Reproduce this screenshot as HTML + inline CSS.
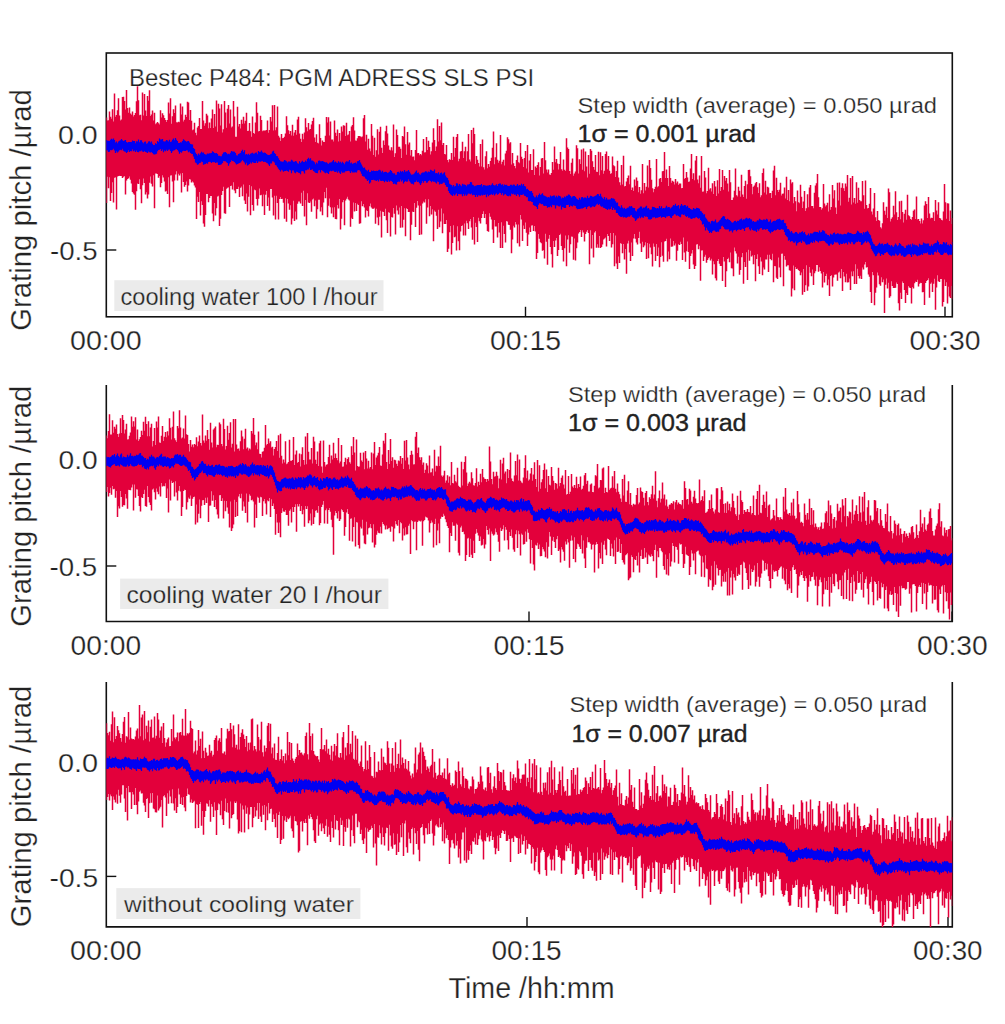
<!DOCTYPE html><html><head><meta charset="utf-8"><style>html,body{margin:0;padding:0;background:#fff;}svg{display:block}text{font-family:"Liberation Sans",sans-serif}</style></head><body>
<svg width="1005" height="1024" viewBox="0 0 1005 1024">
<rect width="1005" height="1024" fill="#fff"/>
<clipPath id="c0"><rect x="106.3" y="53" width="846.0" height="263.8"/></clipPath>
<rect x="106.3" y="53" width="846.0" height="263.8" fill="none" stroke="#111" stroke-width="1.6"/>
<path d="M106.3 134.5h10" stroke="#111" stroke-width="1.4"/>
<path d="M106.3 250h10" stroke="#111" stroke-width="1.4"/>
<path d="M525.5 316.8v-10" stroke="#111" stroke-width="1.4"/>
<path d="M945 316.8v-10" stroke="#111" stroke-width="1.4"/>
<rect x="114.3" y="280.2" width="269.2" height="30.80000000000001" fill="#ebebeb"/>
<g clip-path="url(#c0)"><path d="M106.5 117.5V202.9M107.5 120.6V176.8M108.5 120.3V188.3M109.5 111.5V177.3M110.5 116.7V201.0M111.5 118.7V193.1M112.5 109.3V182.2M113.5 121.6V202.4M114.5 93.5V177.7M115.5 116.8V177.2M116.5 115.0V209.4M117.5 110.2V176.6M118.5 98.2V176.0M119.5 115.5V175.7M120.5 120.4V176.1M121.5 119.5V175.9M122.5 97.1V178.1M123.5 96.7V176.8M124.5 100.9V176.1M125.5 109.6V194.4M126.5 90.0V180.6M127.5 108.0V179.1M128.5 112.8V178.3M129.5 107.4V176.6M130.5 113.4V179.7M131.5 114.8V183.4M132.5 111.5V192.0M133.5 116.4V193.5M134.5 115.1V194.8M135.5 112.9V209.8M136.5 101.2V191.2M137.5 84.8V183.6M138.5 100.2V184.1M139.5 115.2V179.2M140.5 114.8V189.2M141.5 120.3V203.2M142.5 92.6V185.3M143.5 115.4V178.6M144.5 94.0V183.0M145.5 110.6V194.4M146.5 116.0V192.3M147.5 96.1V198.4M148.5 100.7V194.5M149.5 90.2V182.7M150.5 116.0V176.5M151.5 114.5V183.7M152.5 110.6V186.6M153.5 120.6V175.2M154.5 112.7V208.2M155.5 124.2V173.4M156.5 123.3V173.4M157.5 122.1V173.9M158.5 123.2V177.7M159.5 124.6V176.1M160.5 110.3V187.2M161.5 117.6V183.1M162.5 113.2V175.3M163.5 115.2V177.5M164.5 117.9V181.4M165.5 120.0V191.6M166.5 121.9V190.7M167.5 120.0V194.1M168.5 102.4V177.2M169.5 113.6V207.2M170.5 98.2V175.6M171.5 123.7V175.3M172.5 116.2V181.6M173.5 109.3V202.3M174.5 113.0V180.4M175.5 105.4V174.5M176.5 122.3V171.3M177.5 122.5V180.4M178.5 121.8V173.8M179.5 122.3V175.5M180.5 103.5V173.6M181.5 114.4V192.6M182.5 106.6V172.9M183.5 121.5V182.0M184.5 119.8V186.7M185.5 114.8V184.9M186.5 116.9V181.5M187.5 101.8V191.5M188.5 102.5V185.6M189.5 120.0V179.1M190.5 109.9V179.5M191.5 120.8V182.5M192.5 130.2V181.3M193.5 129.5V182.5M194.5 122.8V185.6M195.5 132.7V187.6M196.5 135.2V219.0M197.5 127.6V196.8M198.5 126.1V202.1M199.5 117.9V192.1M200.5 129.0V215.5M201.5 129.0V201.3M202.5 100.9V205.0M203.5 120.4V223.6M204.5 125.8V226.8M205.5 123.2V214.9M206.5 113.7V194.0M207.5 115.6V194.0M208.5 128.2V202.3M209.5 122.5V198.0M210.5 128.0V196.1M211.5 118.5V195.9M212.5 109.4V213.4M213.5 128.0V221.2M214.5 114.1V203.1M215.5 126.5V215.6M216.5 100.5V208.3M217.5 131.7V196.5M218.5 103.7V195.8M219.5 108.4V226.0M220.5 125.4V218.8M221.5 104.2V195.1M222.5 132.5V191.0M223.5 129.3V186.8M224.5 101.1V213.2M225.5 112.6V213.8M226.5 127.8V188.8M227.5 108.8V187.8M228.5 105.1V187.3M229.5 123.4V206.9M230.5 109.5V186.0M231.5 127.6V185.6M232.5 126.6V189.5M233.5 100.9V182.2M234.5 116.6V190.4M235.5 136.8V193.2M236.5 136.7V189.1M237.5 106.8V189.0M238.5 126.5V186.8M239.5 124.1V197.1M240.5 128.4V187.7M241.5 119.8V186.4M242.5 123.7V196.2M243.5 116.7V184.4M244.5 123.6V200.6M245.5 120.8V204.1M246.5 112.8V193.6M247.5 131.0V211.6M248.5 130.8V196.7M249.5 123.1V184.9M250.5 131.2V215.2M251.5 136.8V186.3M252.5 116.5V205.0M253.5 133.1V210.7M254.5 133.9V189.5M255.5 122.6V190.3M256.5 102.2V199.0M257.5 112.8V205.5M258.5 131.6V198.7M259.5 131.1V188.5M260.5 115.8V195.3M261.5 120.0V194.7M262.5 131.2V206.2M263.5 130.5V194.4M264.5 130.5V214.9M265.5 130.5V194.8M266.5 130.1V191.0M267.5 120.4V206.0M268.5 132.8V197.5M269.5 130.0V210.7M270.5 117.1V188.9M271.5 121.4V188.9M272.5 105.2V197.4M273.5 130.4V215.4M274.5 105.1V195.8M275.5 130.2V219.4M276.5 127.3V195.8M277.5 106.6V203.1M278.5 135.7V219.5M279.5 137.5V198.9M280.5 140.9V197.1M281.5 134.1V198.9M282.5 138.2V198.8M283.5 138.1V202.8M284.5 136.8V218.7M285.5 133.4V198.3M286.5 116.2V221.8M287.5 125.2V199.1M288.5 130.3V203.6M289.5 133.9V209.7M290.5 131.0V205.2M291.5 135.5V224.4M292.5 124.8V218.4M293.5 135.7V200.7M294.5 132.6V221.0M295.5 129.9V211.4M296.5 134.8V219.4M297.5 119.5V203.7M298.5 116.7V201.5M299.5 133.5V201.6M300.5 138.8V203.4M301.5 141.9V192.8M302.5 133.8V205.9M303.5 139.2V190.7M304.5 132.5V216.5M305.5 118.3V199.9M306.5 127.3V225.3M307.5 131.3V193.3M308.5 122.9V202.4M309.5 129.7V202.9M310.5 128.9V201.6M311.5 124.5V211.7M312.5 121.1V199.4M313.5 117.7V198.6M314.5 137.4V206.3M315.5 142.1V200.4M316.5 134.2V218.8M317.5 142.8V209.3M318.5 143.4V199.7M319.5 124.2V199.8M320.5 138.1V211.6M321.5 145.6V207.2M322.5 140.6V215.3M323.5 142.1V202.6M324.5 142.0V192.0M325.5 135.8V198.3M326.5 117.1V187.7M327.5 122.6V217.3M328.5 117.3V205.7M329.5 135.5V198.5M330.5 121.4V207.2M331.5 139.6V213.6M332.5 139.5V207.6M333.5 141.4V217.3M334.5 120.5V207.3M335.5 132.7V219.1M336.5 136.0V219.2M337.5 129.6V205.1M338.5 141.6V208.5M339.5 133.1V199.1M340.5 140.8V229.6M341.5 126.5V218.7M342.5 131.5V202.2M343.5 125.2V199.9M344.5 125.8V225.3M345.5 136.0V200.4M346.5 122.7V198.8M347.5 135.3V196.8M348.5 134.5V199.4M349.5 130.9V200.6M350.5 141.6V226.8M351.5 126.6V217.8M352.5 125.1V218.9M353.5 117.2V202.6M354.5 130.6V211.6M355.5 140.6V202.9M356.5 140.8V211.0M357.5 138.2V203.7M358.5 136.1V204.9M359.5 136.0V223.7M360.5 136.6V223.2M361.5 137.3V201.2M362.5 136.4V206.2M363.5 118.3V203.9M364.5 115.1V207.6M365.5 141.4V217.5M366.5 134.8V210.3M367.5 149.7V210.9M368.5 138.8V216.5M369.5 148.5V206.3M370.5 151.2V203.6M371.5 124.0V207.4M372.5 135.7V208.7M373.5 155.0V208.7M374.5 137.7V207.7M375.5 156.8V223.8M376.5 150.2V208.8M377.5 129.3V217.6M378.5 154.4V225.2M379.5 131.8V216.8M380.5 126.8V210.8M381.5 147.7V237.5M382.5 153.0V211.5M383.5 140.6V211.9M384.5 145.1V215.9M385.5 131.2V208.8M386.5 125.8V220.2M387.5 133.5V232.9M388.5 145.6V211.9M389.5 149.8V212.8M390.5 150.5V236.4M391.5 147.2V217.1M392.5 150.4V217.4M393.5 124.5V208.0M394.5 157.0V213.7M395.5 153.2V234.4M396.5 129.5V205.5M397.5 135.1V210.4M398.5 146.8V214.4M399.5 146.7V207.4M400.5 148.7V227.7M401.5 157.9V206.0M402.5 135.9V227.6M403.5 136.7V219.7M404.5 126.6V208.2M405.5 144.3V236.3M406.5 154.7V208.1M407.5 132.1V209.0M408.5 144.6V211.9M409.5 142.6V211.9M410.5 155.6V240.2M411.5 150.1V224.7M412.5 156.8V211.4M413.5 156.6V212.1M414.5 160.3V203.1M415.5 149.9V226.9M416.5 129.9V207.7M417.5 153.2V201.1M418.5 153.0V205.4M419.5 155.3V235.1M420.5 154.0V205.8M421.5 155.2V234.5M422.5 150.7V203.5M423.5 138.9V201.6M424.5 152.5V202.6M425.5 152.3V199.3M426.5 137.0V223.7M427.5 150.1V207.5M428.5 140.8V199.2M429.5 147.1V216.3M430.5 154.4V206.0M431.5 151.3V214.4M432.5 142.5V209.2M433.5 128.3V241.2M434.5 139.9V210.5M435.5 150.9V211.8M436.5 146.5V215.8M437.5 119.3V229.1M438.5 141.4V209.8M439.5 126.1V227.3M440.5 140.2V221.6M441.5 122.6V208.5M442.5 145.0V233.2M443.5 143.0V213.4M444.5 154.1V223.9M445.5 154.5V224.1M446.5 144.9V219.9M447.5 160.1V252.0M448.5 162.2V248.8M449.5 159.2V232.3M450.5 160.1V226.0M451.5 153.0V254.5M452.5 160.1V243.1M453.5 136.8V225.2M454.5 156.7V237.3M455.5 147.9V236.4M456.5 137.0V250.5M457.5 133.9V226.3M458.5 161.2V241.3M459.5 158.7V250.3M460.5 151.4V231.6M461.5 151.1V226.0M462.5 141.8V225.3M463.5 157.9V235.4M464.5 151.3V223.5M465.5 146.8V235.5M466.5 161.2V220.7M467.5 151.3V223.3M468.5 134.0V229.0M469.5 159.6V221.2M470.5 161.5V219.1M471.5 130.1V227.5M472.5 143.3V239.7M473.5 127.8V217.0M474.5 134.0V244.5M475.5 163.9V222.7M476.5 156.1V226.9M477.5 159.8V242.0M478.5 162.9V217.7M479.5 166.6V221.3M480.5 144.0V223.6M481.5 166.5V218.1M482.5 139.4V213.9M483.5 167.2V211.3M484.5 169.4V217.9M485.5 156.3V213.9M486.5 151.2V224.2M487.5 168.3V230.9M488.5 164.0V231.8M489.5 166.7V213.2M490.5 161.0V216.7M491.5 157.8V219.5M492.5 147.7V229.6M493.5 131.4V243.1M494.5 164.3V220.0M495.5 157.2V226.4M496.5 143.2V226.5M497.5 159.7V237.6M498.5 162.8V222.9M499.5 160.8V232.5M500.5 135.0V248.1M501.5 164.2V222.3M502.5 161.7V248.1M503.5 159.8V225.8M504.5 165.6V234.0M505.5 153.5V242.5M506.5 150.8V221.1M507.5 137.2V221.4M508.5 139.2V224.8M509.5 143.6V225.0M510.5 142.3V229.7M511.5 164.5V253.3M512.5 152.9V239.4M513.5 163.2V225.8M514.5 166.0V227.5M515.5 168.2V221.9M516.5 159.9V224.4M517.5 155.5V243.3M518.5 162.2V224.5M519.5 163.2V246.4M520.5 143.0V214.9M521.5 156.7V219.5M522.5 159.0V241.1M523.5 166.9V225.5M524.5 158.0V228.9M525.5 150.9V222.4M526.5 168.5V232.7M527.5 145.1V246.1M528.5 172.5V234.4M529.5 160.5V227.5M530.5 154.1V231.9M531.5 170.1V225.5M532.5 170.0V225.2M533.5 149.3V231.0M534.5 175.1V226.1M535.5 166.5V231.4M536.5 168.1V259.1M537.5 165.0V253.1M538.5 162.2V233.9M539.5 175.4V238.7M540.5 166.9V242.2M541.5 158.6V243.3M542.5 158.0V250.8M543.5 173.4V250.0M544.5 142.1V258.6M545.5 160.2V233.7M546.5 169.4V241.8M547.5 172.4V264.7M548.5 169.6V238.7M549.5 174.5V235.0M550.5 174.9V246.9M551.5 173.0V254.2M552.5 162.0V267.6M553.5 169.7V240.9M554.5 146.6V247.1M555.5 162.3V240.4M556.5 158.9V238.0M557.5 163.5V256.1M558.5 169.4V250.0M559.5 164.1V235.1M560.5 151.9V233.8M561.5 169.2V246.0M562.5 170.7V249.9M563.5 159.6V261.6M564.5 169.8V248.3M565.5 171.1V235.6M566.5 138.2V266.3M567.5 147.4V239.4M568.5 149.1V235.2M569.5 171.0V252.7M570.5 174.1V244.3M571.5 162.8V236.4M572.5 158.4V236.7M573.5 175.8V259.7M574.5 173.6V238.6M575.5 171.6V260.6M576.5 145.2V248.2M577.5 148.2V242.5M578.5 173.4V233.4M579.5 159.2V231.9M580.5 163.9V229.9M581.5 149.4V236.9M582.5 169.7V230.2M583.5 148.4V232.6M584.5 171.3V241.5M585.5 151.6V233.9M586.5 166.6V231.8M587.5 177.5V229.9M588.5 155.0V233.1M589.5 173.7V264.3M590.5 149.1V230.2M591.5 150.8V248.6M592.5 161.2V235.0M593.5 167.0V257.5M594.5 169.8V232.6M595.5 154.9V230.9M596.5 171.7V247.8M597.5 172.0V244.3M598.5 151.8V247.8M599.5 175.3V236.0M600.5 152.2V248.0M601.5 170.2V247.0M602.5 156.0V244.4M603.5 173.7V239.5M604.5 170.8V238.4M605.5 154.1V237.6M606.5 151.6V246.4M607.5 169.2V234.0M608.5 156.1V236.1M609.5 170.8V240.9M610.5 173.9V233.1M611.5 173.3V247.5M612.5 156.4V244.3M613.5 165.2V232.9M614.5 166.2V266.3M615.5 177.0V235.4M616.5 170.9V263.6M617.5 160.8V268.9M618.5 177.4V256.4M619.5 182.2V263.1M620.5 185.3V243.0M621.5 165.1V243.7M622.5 184.5V253.3M623.5 155.8V244.0M624.5 186.6V259.4M625.5 186.0V249.0M626.5 181.5V273.7M627.5 177.9V243.5M628.5 175.5V240.8M629.5 184.2V252.4M630.5 165.7V261.0M631.5 190.0V242.4M632.5 187.4V256.1M633.5 191.1V238.4M634.5 179.6V234.1M635.5 185.8V238.8M636.5 177.6V242.6M637.5 180.7V244.6M638.5 192.3V237.9M639.5 187.0V231.7M640.5 193.8V243.5M641.5 190.2V252.0M642.5 164.0V241.8M643.5 193.2V247.3M644.5 183.1V245.4M645.5 190.6V242.2M646.5 186.7V259.1M647.5 165.4V243.0M648.5 187.5V258.2M649.5 160.1V243.8M650.5 167.9V247.4M651.5 179.8V254.2M652.5 188.3V266.5M653.5 192.3V243.4M654.5 189.1V246.8M655.5 186.7V261.0M656.5 159.1V244.1M657.5 187.2V256.0M658.5 186.2V247.4M659.5 178.8V267.3M660.5 178.0V257.0M661.5 181.9V242.2M662.5 171.3V255.7M663.5 171.0V261.7M664.5 152.1V241.6M665.5 177.9V241.0M666.5 169.4V238.8M667.5 177.9V261.5M668.5 186.1V251.4M669.5 166.1V259.2M670.5 178.0V238.5M671.5 182.8V246.7M672.5 180.8V246.6M673.5 181.8V240.9M674.5 184.5V245.5M675.5 179.1V243.5M676.5 183.3V260.7M677.5 181.6V250.8M678.5 185.1V244.0M679.5 183.5V245.0M680.5 183.4V241.7M681.5 188.3V243.9M682.5 188.0V259.9M683.5 164.0V237.6M684.5 179.0V252.6M685.5 178.1V261.8M686.5 171.9V251.3M687.5 177.5V241.5M688.5 182.1V252.0M689.5 181.6V269.0M690.5 168.4V256.1M691.5 154.1V253.4M692.5 178.9V249.9M693.5 173.3V264.5M694.5 180.2V269.0M695.5 160.5V266.1M696.5 156.1V244.6M697.5 179.5V244.1M698.5 183.2V249.3M699.5 175.4V245.8M700.5 187.8V280.8M701.5 156.0V250.5M702.5 191.7V250.3M703.5 191.6V260.9M704.5 171.0V256.7M705.5 177.6V254.8M706.5 193.3V262.7M707.5 190.9V260.1M708.5 167.8V258.2M709.5 189.6V257.1M710.5 188.2V260.5M711.5 191.5V258.7M712.5 183.3V274.4M713.5 194.1V261.3M714.5 180.9V264.2M715.5 186.4V278.3M716.5 195.9V280.4M717.5 180.2V261.1M718.5 193.5V259.1M719.5 169.0V263.7M720.5 191.0V266.0M721.5 187.1V266.1M722.5 169.9V280.9M723.5 189.7V257.1M724.5 176.0V261.5M725.5 180.7V287.0M726.5 178.1V271.3M727.5 183.5V259.0M728.5 191.6V257.7M729.5 169.9V262.2M730.5 182.2V252.5M731.5 200.1V268.3M732.5 199.9V268.5M733.5 197.5V276.3M734.5 190.8V247.4M735.5 168.4V251.3M736.5 195.2V253.5M737.5 196.6V263.6M738.5 186.8V256.8M739.5 190.7V274.7M740.5 196.7V270.1M741.5 174.7V257.2M742.5 194.6V252.9M743.5 196.9V283.8M744.5 186.0V262.0M745.5 180.7V267.0M746.5 198.8V252.2M747.5 184.2V279.9M748.5 170.1V249.7M749.5 169.7V260.7M750.5 176.3V250.8M751.5 184.1V256.5M752.5 194.3V255.3M753.5 186.8V264.3M754.5 185.5V255.1M755.5 183.2V281.2M756.5 182.0V259.0M757.5 187.3V254.3M758.5 193.0V266.2M759.5 183.2V274.1M760.5 197.3V257.3M761.5 195.3V261.5M762.5 173.0V275.2M763.5 168.5V267.6M764.5 192.5V269.5M765.5 180.7V259.5M766.5 194.4V259.6M767.5 186.7V254.7M768.5 187.4V272.0M769.5 193.3V254.8M770.5 193.1V259.1M771.5 198.1V260.2M772.5 190.7V253.8M773.5 170.4V282.2M774.5 165.8V266.0M775.5 195.2V266.3M776.5 177.7V277.8M777.5 189.9V278.9M778.5 191.9V257.5M779.5 189.8V267.4M780.5 182.7V277.2M781.5 195.6V253.8M782.5 193.7V253.6M783.5 193.6V286.2M784.5 187.5V255.9M785.5 198.4V259.8M786.5 176.7V266.5M787.5 200.1V265.2M788.5 189.9V265.3M789.5 201.2V270.2M790.5 179.4V270.8M791.5 183.5V296.5M792.5 182.3V288.6M793.5 203.2V265.5M794.5 196.9V290.3M795.5 201.2V267.1M796.5 211.2V268.9M797.5 190.5V268.5M798.5 202.2V270.1M799.5 203.3V270.9M800.5 184.7V275.3M801.5 196.7V272.4M802.5 208.0V294.8M803.5 201.5V269.0M804.5 191.0V291.9M805.5 210.9V285.2M806.5 208.2V265.2M807.5 194.3V290.7M808.5 207.3V286.4M809.5 187.5V267.1M810.5 185.1V272.8M811.5 205.9V276.3M812.5 206.0V269.4M813.5 208.2V285.1M814.5 192.8V273.3M815.5 185.4V271.3M816.5 183.2V265.0M817.5 174.0V265.1M818.5 197.3V271.7M819.5 207.1V267.2M820.5 206.9V271.0M821.5 209.7V273.5M822.5 208.2V287.6M823.5 183.9V272.0M824.5 203.6V282.5M825.5 206.4V276.0M826.5 205.2V273.7M827.5 202.8V285.3M828.5 211.5V279.5M829.5 194.3V296.1M830.5 209.8V275.9M831.5 206.9V274.9M832.5 185.1V286.5M833.5 198.5V277.5M834.5 190.2V274.8M835.5 207.5V274.5M836.5 213.9V274.4M837.5 182.8V280.8M838.5 200.5V272.4M839.5 182.4V271.4M840.5 205.5V278.3M841.5 187.8V269.0M842.5 183.3V291.1M843.5 188.3V272.0M844.5 191.1V276.5M845.5 183.5V282.3M846.5 186.5V273.7M847.5 175.0V282.5M848.5 201.7V282.3M849.5 197.8V278.5M850.5 178.0V290.1M851.5 204.6V271.4M852.5 176.1V276.2M853.5 202.5V271.2M854.5 198.0V284.1M855.5 203.7V264.3M856.5 182.3V283.9M857.5 202.7V268.8M858.5 187.8V275.9M859.5 199.9V278.4M860.5 201.2V275.8M861.5 201.2V279.1M862.5 180.9V267.6M863.5 195.3V269.6M864.5 208.7V264.6M865.5 180.5V262.1M866.5 205.0V267.6M867.5 208.4V266.9M868.5 208.0V274.6M869.5 203.8V276.8M870.5 188.0V291.9M871.5 211.4V302.9M872.5 214.6V272.0M873.5 208.5V275.2M874.5 193.1V305.3M875.5 217.3V292.7M876.5 221.1V287.6M877.5 211.0V272.6M878.5 220.0V275.5M879.5 220.7V284.2M880.5 227.2V285.8M881.5 228.4V277.2M882.5 223.2V282.3M883.5 202.2V279.5M884.5 210.8V313.1M885.5 214.8V284.8M886.5 206.7V278.5M887.5 218.1V288.5M888.5 188.5V282.7M889.5 192.2V297.7M890.5 221.6V296.3M891.5 218.8V281.3M892.5 217.2V285.9M893.5 205.7V288.1M894.5 214.6V287.9M895.5 191.3V287.8M896.5 212.3V282.4M897.5 220.0V284.0M898.5 216.9V303.2M899.5 201.2V310.6M900.5 219.3V292.7M901.5 200.7V298.9M902.5 212.0V281.6M903.5 222.6V283.1M904.5 213.7V289.9M905.5 209.7V303.1M906.5 219.7V292.9M907.5 194.7V295.1M908.5 215.3V286.1M909.5 216.3V287.4M910.5 219.0V288.1M911.5 219.9V303.5M912.5 216.9V286.9M913.5 210.7V288.4M914.5 209.6V283.3M915.5 219.0V281.6M916.5 196.6V282.1M917.5 219.5V279.8M918.5 218.9V286.4M919.5 221.0V283.8M920.5 223.6V282.8M921.5 218.6V282.9M922.5 223.4V292.2M923.5 220.3V291.9M924.5 205.5V305.0M925.5 201.2V283.0M926.5 204.1V281.0M927.5 218.1V280.0M928.5 197.0V278.2M929.5 213.5V297.8M930.5 218.6V283.7M931.5 217.8V282.6M932.5 217.9V292.0M933.5 212.2V283.7M934.5 220.9V278.8M935.5 200.1V309.8M936.5 210.5V287.5M937.5 214.4V275.3M938.5 202.2V281.2M939.5 218.0V282.0M940.5 218.4V278.9M941.5 219.9V279.0M942.5 220.4V306.4M943.5 211.4V301.9M944.5 184.0V279.4M945.5 202.2V286.0M946.5 218.7V282.2M947.5 203.2V303.4M948.5 203.6V286.7M949.5 221.1V296.5M950.5 210.4V298.1M951.5 224.0V286.1M952.5 217.9V299.3" fill="none" stroke="#e3003b" stroke-width="1.5"/></g>
<g clip-path="url(#c0)"><path d="M106.5 139.9V150.3M107.5 140.8V150.6M108.5 140.7V151.9M109.5 141.0V151.7M110.5 139.7V149.9M111.5 138.8V150.2M112.5 139.4V149.8M113.5 138.4V148.7M114.5 139.9V150.5M115.5 142.4V153.0M116.5 141.5V151.2M117.5 143.2V152.4M118.5 141.5V151.4M119.5 140.7V150.2M120.5 140.3V149.7M121.5 139.0V150.2M122.5 140.3V148.8M123.5 141.0V150.7M124.5 140.6V151.5M125.5 140.1V151.7M126.5 142.0V153.0M127.5 142.7V152.1M128.5 142.1V150.3M129.5 142.0V152.1M130.5 141.9V151.1M131.5 141.9V151.3M132.5 140.5V149.2M133.5 140.9V151.2M134.5 141.0V150.4M135.5 143.2V152.0M136.5 141.2V150.4M137.5 141.5V151.9M138.5 139.5V152.2M139.5 142.3V151.2M140.5 140.2V151.3M141.5 140.3V150.5M142.5 142.2V151.6M143.5 143.3V152.1M144.5 141.8V151.0M145.5 141.4V152.1M146.5 143.7V152.2M147.5 143.3V152.9M148.5 141.5V151.5M149.5 141.3V152.2M150.5 142.5V152.4M151.5 141.6V151.9M152.5 143.8V152.9M153.5 145.1V154.3M154.5 144.9V154.5M155.5 143.3V154.2M156.5 144.1V153.7M157.5 140.9V151.2M158.5 141.9V150.1M159.5 138.6V149.8M160.5 139.5V149.0M161.5 139.4V151.0M162.5 139.1V149.5M163.5 141.2V152.2M164.5 141.6V150.4M165.5 141.3V151.2M166.5 139.9V149.7M167.5 140.4V151.0M168.5 141.4V149.8M169.5 139.7V149.6M170.5 141.9V150.9M171.5 141.5V153.1M172.5 139.7V151.2M173.5 138.6V150.5M174.5 140.2V150.2M175.5 138.1V149.6M176.5 139.8V149.1M177.5 141.0V150.0M178.5 142.9V151.5M179.5 142.9V153.7M180.5 142.2V152.1M181.5 142.4V152.8M182.5 141.0V151.2M183.5 139.2V150.8M184.5 140.3V151.1M185.5 140.9V151.1M186.5 141.7V150.3M187.5 141.2V150.6M188.5 140.9V152.2M189.5 142.5V151.6M190.5 143.9V152.9M191.5 144.3V153.8M192.5 144.5V154.1M193.5 147.9V156.5M194.5 149.0V159.0M195.5 152.4V162.5M196.5 154.1V163.2M197.5 155.6V164.7M198.5 153.5V164.2M199.5 154.7V163.1M200.5 153.2V162.7M201.5 151.8V161.6M202.5 152.7V162.0M203.5 152.4V164.7M204.5 153.9V164.3M205.5 154.6V163.9M206.5 154.5V163.0M207.5 153.5V163.8M208.5 153.8V162.1M209.5 153.2V161.8M210.5 153.3V161.9M211.5 153.1V163.1M212.5 151.3V161.9M213.5 152.1V162.3M214.5 153.1V162.1M215.5 153.2V163.1M216.5 152.9V162.4M217.5 154.0V162.5M218.5 155.7V165.0M219.5 155.8V165.1M220.5 156.2V164.7M221.5 156.2V164.3M222.5 154.3V162.9M223.5 152.6V161.1M224.5 152.2V161.2M225.5 152.1V161.3M226.5 152.9V162.3M227.5 154.3V162.9M228.5 153.7V165.7M229.5 154.2V163.5M230.5 152.8V161.9M231.5 151.1V160.3M232.5 151.6V161.0M233.5 151.6V161.3M234.5 151.7V162.1M235.5 153.0V163.2M236.5 155.3V164.5M237.5 155.5V164.1M238.5 153.9V163.4M239.5 153.4V162.9M240.5 153.0V162.5M241.5 150.9V161.2M242.5 149.7V160.0M243.5 152.0V161.2M244.5 150.2V162.4M245.5 154.5V164.4M246.5 154.0V162.7M247.5 154.7V165.6M248.5 153.7V164.8M249.5 155.0V164.0M250.5 153.7V162.5M251.5 153.2V163.5M252.5 152.7V161.9M253.5 153.8V162.7M254.5 153.5V163.1M255.5 152.7V163.0M256.5 152.6V161.3M257.5 154.3V162.9M258.5 151.0V161.6M259.5 152.0V161.5M260.5 151.7V161.7M261.5 150.6V161.2M262.5 152.3V161.1M263.5 153.1V162.1M264.5 152.6V161.7M265.5 153.0V162.1M266.5 153.9V162.7M267.5 154.7V163.2M268.5 154.9V164.4M269.5 155.1V166.0M270.5 154.3V163.5M271.5 153.7V163.6M272.5 151.6V161.3M273.5 150.7V161.4M274.5 153.1V162.4M275.5 154.1V164.9M276.5 156.1V165.4M277.5 156.2V167.3M278.5 158.2V168.7M279.5 160.0V169.9M280.5 161.3V171.5M281.5 161.4V169.8M282.5 161.8V170.5M283.5 161.5V171.7M284.5 160.0V170.9M285.5 160.5V171.0M286.5 161.3V170.4M287.5 162.6V171.1M288.5 161.6V171.8M289.5 161.5V169.8M290.5 161.4V170.3M291.5 159.8V173.2M292.5 160.6V170.4M293.5 161.7V170.4M294.5 161.7V172.6M295.5 160.9V173.2M296.5 161.4V171.8M297.5 163.3V171.9M298.5 163.7V172.7M299.5 161.3V173.1M300.5 162.9V174.2M301.5 161.8V171.3M302.5 160.8V171.1M303.5 162.0V171.5M304.5 162.0V173.4M305.5 160.6V170.2M306.5 161.6V170.2M307.5 159.0V169.6M308.5 157.8V169.6M309.5 159.3V167.8M310.5 158.3V170.0M311.5 160.5V169.7M312.5 160.6V169.3M313.5 161.2V171.1M314.5 162.3V171.8M315.5 164.2V172.7M316.5 162.5V172.9M317.5 163.4V173.3M318.5 160.7V170.6M319.5 160.6V170.1M320.5 161.2V172.5M321.5 161.3V169.9M322.5 160.9V170.8M323.5 161.5V171.6M324.5 161.9V172.6M325.5 162.4V173.3M326.5 162.2V172.6M327.5 163.3V172.9M328.5 163.9V174.1M329.5 162.7V171.5M330.5 162.6V170.7M331.5 162.3V171.3M332.5 161.2V170.7M333.5 160.0V170.7M334.5 162.2V171.7M335.5 161.6V172.0M336.5 162.6V171.6M337.5 163.0V172.8M338.5 161.3V171.3M339.5 162.4V172.8M340.5 161.7V173.9M341.5 163.3V171.6M342.5 161.8V172.8M343.5 162.9V172.6M344.5 164.2V172.6M345.5 162.2V171.3M346.5 161.3V171.2M347.5 161.6V171.1M348.5 161.4V170.8M349.5 160.0V171.3M350.5 163.2V172.9M351.5 162.6V171.3M352.5 163.9V172.6M353.5 163.3V172.4M354.5 163.0V172.4M355.5 162.4V172.3M356.5 163.5V172.4M357.5 161.3V170.4M358.5 161.1V170.0M359.5 159.9V170.2M360.5 162.6V171.5M361.5 164.6V173.8M362.5 166.6V176.1M363.5 168.0V176.5M364.5 167.5V176.7M365.5 169.5V178.4M366.5 170.3V179.2M367.5 171.2V180.9M368.5 169.8V180.1M369.5 172.1V183.6M370.5 172.0V182.6M371.5 170.5V180.1M372.5 170.9V180.0M373.5 170.4V179.8M374.5 171.0V180.3M375.5 171.1V180.4M376.5 170.7V181.0M377.5 170.9V180.1M378.5 170.3V181.4M379.5 169.7V179.4M380.5 170.4V180.7M381.5 172.3V181.1M382.5 170.7V180.7M383.5 172.5V181.0M384.5 171.9V182.3M385.5 171.7V180.8M386.5 171.9V181.4M387.5 172.9V182.0M388.5 172.4V180.6M389.5 171.7V181.7M390.5 170.0V180.7M391.5 170.9V180.9M392.5 172.8V182.1M393.5 173.4V184.0M394.5 173.3V183.5M395.5 174.7V184.2M396.5 174.7V184.4M397.5 171.9V182.0M398.5 171.8V181.6M399.5 172.7V181.7M400.5 170.8V179.6M401.5 172.1V181.6M402.5 171.0V180.3M403.5 172.2V183.5M404.5 170.0V181.9M405.5 171.8V181.0M406.5 171.3V181.7M407.5 171.3V181.6M408.5 169.9V179.2M409.5 171.7V181.2M410.5 173.6V182.4M411.5 174.8V183.7M412.5 174.5V183.7M413.5 174.2V184.6M414.5 173.3V182.2M415.5 171.8V182.0M416.5 170.4V180.5M417.5 172.9V182.0M418.5 172.4V181.7M419.5 174.2V183.3M420.5 174.7V185.1M421.5 173.2V183.3M422.5 172.6V181.0M423.5 172.5V182.7M424.5 172.2V181.0M425.5 171.2V181.0M426.5 171.5V182.7M427.5 172.5V182.6M428.5 171.4V180.9M429.5 171.9V180.2M430.5 169.7V181.0M431.5 170.2V182.3M432.5 171.0V181.1M433.5 171.3V181.7M434.5 169.6V181.7M435.5 173.2V182.5M436.5 173.0V183.4M437.5 173.4V181.6M438.5 172.3V182.0M439.5 174.6V184.5M440.5 173.1V183.8M441.5 172.5V184.0M442.5 174.2V183.5M443.5 173.3V182.4M444.5 172.3V182.7M445.5 175.4V185.0M446.5 177.3V186.8M447.5 178.1V187.0M448.5 180.3V191.1M449.5 183.7V193.0M450.5 184.6V194.2M451.5 185.1V195.0M452.5 186.4V195.9M453.5 185.1V194.2M454.5 186.5V195.6M455.5 186.1V194.4M456.5 183.3V193.2M457.5 183.4V195.9M458.5 185.7V194.0M459.5 184.0V194.3M460.5 185.2V194.3M461.5 186.2V194.3M462.5 183.8V196.3M463.5 184.5V194.1M464.5 184.5V195.8M465.5 185.0V194.4M466.5 186.3V195.8M467.5 184.6V194.6M468.5 184.4V193.6M469.5 184.1V193.8M470.5 182.1V194.3M471.5 182.3V193.6M472.5 184.7V195.2M473.5 185.3V194.8M474.5 186.2V195.0M475.5 185.8V197.1M476.5 185.4V194.9M477.5 185.1V196.8M478.5 184.9V195.3M479.5 185.0V195.5M480.5 185.1V195.7M481.5 184.1V194.8M482.5 186.5V195.5M483.5 185.1V194.7M484.5 185.2V194.9M485.5 185.6V194.6M486.5 185.8V197.2M487.5 185.6V194.5M488.5 185.6V196.2M489.5 185.1V195.0M490.5 185.5V194.8M491.5 184.8V194.0M492.5 183.2V194.9M493.5 185.0V193.8M494.5 185.4V195.4M495.5 185.3V194.3M496.5 184.3V193.3M497.5 185.9V194.8M498.5 184.0V194.0M499.5 183.6V192.8M500.5 183.6V192.9M501.5 184.9V194.7M502.5 184.2V192.9M503.5 185.8V195.6M504.5 184.5V194.5M505.5 184.9V194.0M506.5 184.8V195.3M507.5 185.8V196.1M508.5 186.0V196.2M509.5 185.9V195.5M510.5 184.8V196.2M511.5 184.7V193.4M512.5 185.5V194.2M513.5 184.6V193.8M514.5 184.8V194.8M515.5 185.9V194.4M516.5 185.5V195.9M517.5 184.0V194.0M518.5 185.7V194.7M519.5 184.9V196.8M520.5 185.6V194.8M521.5 183.7V195.1M522.5 185.4V194.8M523.5 184.1V194.3M524.5 186.1V195.7M525.5 186.6V196.1M526.5 189.2V197.3M527.5 188.8V197.2M528.5 190.0V200.9M529.5 191.1V201.2M530.5 191.3V201.1M531.5 191.1V201.8M532.5 193.1V201.9M533.5 195.7V205.1M534.5 197.2V205.8M535.5 197.3V206.1M536.5 195.4V207.0M537.5 197.2V209.0M538.5 195.1V204.8M539.5 193.4V203.3M540.5 195.0V203.6M541.5 194.2V204.2M542.5 193.2V203.9M543.5 195.3V205.5M544.5 195.8V206.0M545.5 196.3V205.7M546.5 196.8V205.9M547.5 197.6V207.7M548.5 196.9V207.1M549.5 197.6V207.3M550.5 195.6V205.7M551.5 196.6V207.3M552.5 196.1V204.8M553.5 195.6V205.2M554.5 195.4V205.2M555.5 197.3V208.4M556.5 195.7V205.6M557.5 197.2V205.4M558.5 195.6V206.3M559.5 196.1V206.4M560.5 196.5V205.4M561.5 198.5V209.5M562.5 197.6V207.1M563.5 198.0V207.4M564.5 196.5V208.1M565.5 197.3V208.0M566.5 195.7V205.1M567.5 195.8V205.1M568.5 194.4V204.8M569.5 194.8V207.0M570.5 196.1V205.6M571.5 197.5V205.9M572.5 196.6V206.6M573.5 195.9V205.3M574.5 196.0V205.8M575.5 197.0V206.0M576.5 198.5V208.3M577.5 199.3V209.3M578.5 200.0V209.0M579.5 197.7V208.9M580.5 199.4V208.8M581.5 197.3V208.6M582.5 197.0V208.6M583.5 198.2V208.1M584.5 197.6V207.3M585.5 197.5V207.0M586.5 198.2V208.9M587.5 195.7V207.0M588.5 198.0V206.2M589.5 197.5V206.2M590.5 195.7V207.6M591.5 196.0V207.2M592.5 196.7V206.2M593.5 196.8V206.4M594.5 196.2V207.1M595.5 195.7V205.8M596.5 195.2V204.5M597.5 194.1V203.7M598.5 194.2V205.0M599.5 195.9V204.0M600.5 193.8V205.8M601.5 196.6V206.7M602.5 197.8V206.6M603.5 199.0V207.8M604.5 196.9V208.1M605.5 199.6V208.8M606.5 197.7V208.9M607.5 199.4V209.9M608.5 199.4V208.8M609.5 199.4V209.4M610.5 199.2V208.9M611.5 198.1V206.8M612.5 198.6V209.9M613.5 198.5V208.0M614.5 199.2V209.7M615.5 201.2V209.7M616.5 202.7V213.0M617.5 202.6V212.9M618.5 206.1V214.7M619.5 206.4V216.1M620.5 207.7V216.7M621.5 205.2V217.0M622.5 207.4V216.5M623.5 208.4V217.5M624.5 207.8V217.0M625.5 209.1V217.5M626.5 208.6V217.8M627.5 207.7V217.1M628.5 207.4V216.5M629.5 206.3V216.7M630.5 206.6V215.4M631.5 206.1V215.0M632.5 207.4V217.1M633.5 208.1V217.8M634.5 207.9V218.4M635.5 210.8V221.1M636.5 211.5V219.7M637.5 209.3V218.4M638.5 208.5V218.2M639.5 207.7V216.4M640.5 206.4V218.3M641.5 206.5V216.7M642.5 208.6V217.4M643.5 207.5V217.8M644.5 207.7V216.1M645.5 206.7V216.7M646.5 205.8V216.4M647.5 208.4V216.9M648.5 208.1V219.3M649.5 209.5V219.5M650.5 209.7V219.4M651.5 209.5V219.1M652.5 206.7V217.4M653.5 206.9V217.6M654.5 207.3V217.1M655.5 208.0V218.3M656.5 208.6V217.7M657.5 208.1V217.7M658.5 208.5V217.3M659.5 205.9V216.9M660.5 207.9V216.2M661.5 206.3V217.8M662.5 208.4V216.9M663.5 208.0V217.1M664.5 208.3V217.1M665.5 207.6V218.0M666.5 205.8V216.5M667.5 207.5V216.4M668.5 206.9V216.0M669.5 207.2V216.1M670.5 208.4V217.5M671.5 207.4V217.9M672.5 206.6V215.9M673.5 204.9V215.2M674.5 205.5V213.9M675.5 203.8V214.4M676.5 205.9V215.8M677.5 205.8V215.3M678.5 205.0V216.0M679.5 208.5V216.7M680.5 205.8V217.3M681.5 204.0V214.5M682.5 205.5V214.3M683.5 205.8V215.0M684.5 204.9V214.4M685.5 205.2V216.1M686.5 206.7V217.0M687.5 205.7V215.9M688.5 207.8V217.7M689.5 208.1V217.4M690.5 208.9V218.4M691.5 209.5V218.9M692.5 209.8V218.5M693.5 207.9V217.9M694.5 208.8V218.2M695.5 209.0V217.4M696.5 207.8V217.0M697.5 208.1V218.1M698.5 208.2V218.8M699.5 208.7V218.1M700.5 210.9V219.9M701.5 211.6V221.2M702.5 213.1V224.4M703.5 214.4V224.1M704.5 214.2V226.8M705.5 217.5V230.4M706.5 218.7V227.8M707.5 220.6V229.7M708.5 221.7V230.9M709.5 221.8V232.9M710.5 223.6V232.0M711.5 220.9V233.1M712.5 220.7V231.2M713.5 221.6V230.6M714.5 221.2V230.6M715.5 219.6V231.4M716.5 222.5V232.0M717.5 222.4V231.6M718.5 221.8V231.7M719.5 220.4V229.6M720.5 219.4V229.0M721.5 218.1V226.3M722.5 216.7V225.8M723.5 216.1V227.0M724.5 216.4V228.7M725.5 218.9V229.6M726.5 219.7V229.5M727.5 218.8V229.6M728.5 219.5V229.2M729.5 220.0V231.6M730.5 221.0V230.7M731.5 222.2V230.6M732.5 222.8V232.5M733.5 222.3V230.5M734.5 221.1V229.9M735.5 220.8V229.8M736.5 221.9V231.2M737.5 220.8V230.1M738.5 221.1V229.4M739.5 219.8V229.6M740.5 219.2V229.9M741.5 218.5V229.6M742.5 220.3V228.6M743.5 219.2V228.9M744.5 219.4V231.1M745.5 218.5V227.9M746.5 217.8V227.3M747.5 218.5V227.4M748.5 218.8V227.1M749.5 217.9V229.2M750.5 219.2V230.4M751.5 219.5V228.5M752.5 221.6V229.9M753.5 221.0V230.4M754.5 222.1V230.8M755.5 221.7V230.8M756.5 221.6V231.9M757.5 220.3V229.2M758.5 220.4V230.8M759.5 218.7V229.2M760.5 219.5V228.3M761.5 220.0V228.1M762.5 220.2V229.8M763.5 219.6V229.5M764.5 219.6V228.9M765.5 220.0V229.7M766.5 218.7V229.2M767.5 219.4V229.1M768.5 221.7V231.0M769.5 221.6V231.9M770.5 219.4V233.3M771.5 222.8V231.6M772.5 221.7V232.1M773.5 221.1V231.1M774.5 220.8V230.1M775.5 221.1V230.6M776.5 220.0V230.0M777.5 219.3V228.9M778.5 219.2V229.5M779.5 218.7V230.1M780.5 219.8V229.7M781.5 220.5V229.1M782.5 220.0V229.6M783.5 219.8V229.7M784.5 222.9V232.0M785.5 223.2V234.9M786.5 226.0V236.3M787.5 229.0V237.2M788.5 229.0V240.8M789.5 230.4V240.1M790.5 232.3V241.7M791.5 231.1V241.1M792.5 232.8V241.3M793.5 233.4V242.6M794.5 233.3V242.8M795.5 231.9V241.5M796.5 232.0V245.5M797.5 233.3V243.3M798.5 234.0V242.6M799.5 232.5V242.0M800.5 232.8V241.5M801.5 232.1V243.0M802.5 231.2V240.6M803.5 232.9V241.6M804.5 231.9V241.7M805.5 234.2V243.6M806.5 235.6V244.8M807.5 234.9V244.6M808.5 233.4V244.3M809.5 235.4V244.3M810.5 233.2V242.8M811.5 233.4V242.1M812.5 233.5V243.1M813.5 232.5V241.2M814.5 231.7V242.4M815.5 231.7V240.2M816.5 231.9V241.0M817.5 232.0V241.6M818.5 232.7V242.4M819.5 230.6V240.7M820.5 232.5V241.2M821.5 232.0V240.9M822.5 230.3V240.8M823.5 230.5V240.7M824.5 231.2V241.0M825.5 233.4V242.3M826.5 233.7V243.2M827.5 235.1V243.8M828.5 235.1V245.6M829.5 236.2V245.8M830.5 233.7V243.7M831.5 234.4V243.8M832.5 234.5V245.0M833.5 232.9V243.9M834.5 232.5V241.8M835.5 234.3V242.6M836.5 234.1V242.5M837.5 233.3V242.3M838.5 233.6V243.4M839.5 234.3V244.9M840.5 233.8V243.5M841.5 234.2V244.1M842.5 234.4V244.1M843.5 234.3V242.7M844.5 233.7V243.8M845.5 233.9V242.9M846.5 234.3V242.8M847.5 232.7V244.6M848.5 232.3V241.7M849.5 233.1V242.5M850.5 233.1V243.7M851.5 233.5V241.8M852.5 233.9V242.2M853.5 234.3V244.2M854.5 233.9V244.2M855.5 234.1V242.7M856.5 232.7V241.7M857.5 230.8V242.1M858.5 231.5V240.7M859.5 232.8V241.9M860.5 233.2V242.1M861.5 233.1V244.9M862.5 234.4V244.6M863.5 232.1V243.2M864.5 233.2V242.3M865.5 232.1V240.9M866.5 231.7V242.7M867.5 230.7V241.4M868.5 232.3V241.8M869.5 233.9V243.2M870.5 235.2V245.2M871.5 238.5V248.9M872.5 241.7V250.7M873.5 243.7V252.6M874.5 244.6V254.3M875.5 246.1V256.2M876.5 246.0V255.8M877.5 245.5V253.7M878.5 244.2V252.6M879.5 242.8V253.2M880.5 244.2V256.0M881.5 243.7V254.0M882.5 243.5V254.6M883.5 245.2V254.9M884.5 244.1V253.3M885.5 243.9V253.0M886.5 243.7V252.1M887.5 242.8V252.3M888.5 244.5V253.7M889.5 245.1V254.9M890.5 246.3V255.5M891.5 245.1V256.3M892.5 246.3V255.2M893.5 246.9V255.5M894.5 245.2V255.8M895.5 243.5V253.6M896.5 244.7V254.5M897.5 246.2V255.7M898.5 245.3V255.0M899.5 243.1V253.5M900.5 244.0V253.4M901.5 245.5V255.8M902.5 246.1V255.2M903.5 246.6V256.4M904.5 247.8V257.1M905.5 247.9V256.5M906.5 245.6V255.5M907.5 245.5V254.5M908.5 244.6V254.2M909.5 245.2V254.1M910.5 244.3V255.1M911.5 246.8V256.9M912.5 243.4V254.1M913.5 244.8V255.2M914.5 244.4V254.1M915.5 245.2V254.4M916.5 245.3V255.4M917.5 245.8V256.2M918.5 247.0V255.4M919.5 243.8V255.5M920.5 244.8V254.9M921.5 244.9V254.1M922.5 244.8V254.9M923.5 242.4V252.9M924.5 243.2V253.5M925.5 243.6V253.1M926.5 243.7V253.3M927.5 243.4V252.3M928.5 243.6V254.6M929.5 246.1V254.7M930.5 246.3V255.0M931.5 244.4V253.5M932.5 246.1V254.8M933.5 244.3V254.7M934.5 243.4V252.0M935.5 243.1V251.5M936.5 242.8V252.4M937.5 240.6V249.7M938.5 242.0V252.0M939.5 244.7V252.9M940.5 244.0V254.4M941.5 244.6V255.0M942.5 244.2V254.9M943.5 242.0V253.8M944.5 242.6V252.5M945.5 243.4V252.9M946.5 242.3V252.4M947.5 245.1V254.3M948.5 244.6V255.3M949.5 245.8V254.5M950.5 244.0V254.7M951.5 244.9V254.7M952.5 241.9V252.8" fill="none" stroke="#0000f2" stroke-width="1.25"/></g>
<clipPath id="c1"><rect x="106.3" y="385" width="846.0" height="236.5"/></clipPath>
<path d="M106.3 385V621.5H952.3V385" fill="none" stroke="#111" stroke-width="1.6"/>
<path d="M106.3 460h10" stroke="#111" stroke-width="1.4"/>
<path d="M106.3 566h10" stroke="#111" stroke-width="1.4"/>
<path d="M529 621.5v-10" stroke="#111" stroke-width="1.4"/>
<path d="M952 621.5v-10" stroke="#111" stroke-width="1.4"/>
<rect x="120.1" y="578.6" width="268.29999999999995" height="30.399999999999977" fill="#ebebeb"/>
<g clip-path="url(#c1)"><path d="M106.5 435.4V492.1M107.5 438.3V487.1M108.5 431.1V496.5M109.5 414.2V492.9M110.5 434.5V487.8M111.5 434.4V494.7M112.5 420.3V486.1M113.5 432.8V489.3M114.5 426.8V488.7M115.5 428.8V497.7M116.5 424.4V491.1M117.5 434.0V517.1M118.5 437.0V506.3M119.5 433.4V508.4M120.5 418.3V491.0M121.5 432.9V496.9M122.5 415.1V506.7M123.5 419.9V504.9M124.5 433.6V505.3M125.5 429.4V494.0M126.5 423.8V498.6M127.5 439.5V508.7M128.5 439.3V489.7M129.5 435.8V489.9M130.5 432.4V490.2M131.5 416.4V487.6M132.5 426.7V484.6M133.5 421.2V510.6M134.5 426.5V484.6M135.5 417.3V497.8M136.5 439.6V489.2M137.5 429.5V489.6M138.5 441.1V496.1M139.5 439.2V506.1M140.5 437.1V511.4M141.5 430.8V496.9M142.5 434.9V498.1M143.5 421.7V494.0M144.5 430.8V489.8M145.5 416.7V506.0M146.5 424.0V506.7M147.5 436.3V485.9M148.5 421.2V496.9M149.5 436.3V502.5M150.5 427.5V505.0M151.5 423.7V510.6M152.5 446.5V489.4M153.5 441.1V488.4M154.5 427.9V492.3M155.5 445.1V499.5M156.5 421.6V488.6M157.5 427.6V491.7M158.5 416.6V494.3M159.5 442.5V486.5M160.5 443.1V496.5M161.5 435.7V483.0M162.5 426.1V486.4M163.5 441.1V485.7M164.5 436.7V486.2M165.5 431.9V483.3M166.5 437.2V497.9M167.5 431.3V488.5M168.5 435.5V512.5M169.5 418.3V479.6M170.5 427.8V500.6M171.5 439.4V480.7M172.5 426.8V482.9M173.5 411.4V481.9M174.5 438.3V496.5M175.5 440.3V481.2M176.5 442.0V492.6M177.5 426.1V500.5M178.5 428.2V490.8M179.5 410.2V486.1M180.5 427.4V491.5M181.5 438.6V516.0M182.5 437.5V506.9M183.5 428.5V490.9M184.5 438.6V489.4M185.5 415.5V490.1M186.5 434.3V509.5M187.5 435.1V502.2M188.5 444.1V497.5M189.5 451.4V498.8M190.5 440.0V495.6M191.5 446.7V506.1M192.5 444.6V498.7M193.5 447.3V497.1M194.5 443.9V496.6M195.5 445.0V524.6M196.5 437.2V504.4M197.5 446.2V522.5M198.5 441.6V513.7M199.5 435.5V499.4M200.5 443.1V518.2M201.5 445.4V505.8M202.5 414.4V500.2M203.5 440.6V499.9M204.5 442.8V504.9M205.5 435.4V497.7M206.5 440.8V502.9M207.5 430.0V497.5M208.5 438.9V522.1M209.5 449.7V505.7M210.5 422.8V505.5M211.5 442.5V491.2M212.5 447.4V500.8M213.5 429.6V495.2M214.5 428.3V507.1M215.5 426.6V500.0M216.5 447.2V509.3M217.5 444.8V514.5M218.5 444.9V518.4M219.5 422.6V495.3M220.5 424.2V495.0M221.5 444.1V501.0M222.5 446.3V498.2M223.5 418.7V518.5M224.5 428.9V500.7M225.5 449.5V511.3M226.5 446.1V500.9M227.5 425.7V507.4M228.5 439.8V513.8M229.5 433.1V527.5M230.5 422.2V501.4M231.5 447.6V531.0M232.5 443.8V528.3M233.5 419.1V524.4M234.5 451.4V499.7M235.5 418.9V517.0M236.5 444.6V501.9M237.5 448.9V516.0M238.5 448.6V496.4M239.5 450.7V493.9M240.5 441.3V498.2M241.5 430.6V493.8M242.5 436.6V510.8M243.5 449.2V501.5M244.5 438.7V506.5M245.5 428.7V513.0M246.5 448.7V493.5M247.5 447.6V522.4M248.5 450.4V501.7M249.5 448.5V494.3M250.5 449.6V495.8M251.5 431.0V500.3M252.5 433.6V499.4M253.5 418.1V501.5M254.5 434.7V527.6M255.5 445.2V504.4M256.5 442.6V517.9M257.5 449.3V496.8M258.5 431.5V497.8M259.5 453.8V502.8M260.5 453.9V496.8M261.5 457.4V497.3M262.5 451.8V516.0M263.5 451.3V501.3M264.5 447.8V499.0M265.5 424.9V503.5M266.5 445.3V514.4M267.5 443.9V500.2M268.5 438.4V501.2M269.5 443.2V497.9M270.5 441.3V517.1M271.5 447.6V499.2M272.5 446.7V506.0M273.5 455.6V503.4M274.5 448.9V508.9M275.5 446.9V534.7M276.5 441.1V514.0M277.5 451.0V522.4M278.5 435.2V533.0M279.5 457.8V522.6M280.5 433.7V537.3M281.5 455.8V513.0M282.5 463.5V508.2M283.5 459.4V511.4M284.5 462.6V511.7M285.5 441.2V510.1M286.5 464.2V514.9M287.5 463.6V514.9M288.5 462.1V525.8M289.5 439.8V510.8M290.5 460.7V509.2M291.5 460.9V522.4M292.5 460.1V507.0M293.5 437.0V512.1M294.5 464.9V507.1M295.5 454.4V504.3M296.5 450.4V531.8M297.5 462.9V504.1M298.5 462.1V506.6M299.5 453.4V504.1M300.5 466.5V511.1M301.5 454.2V505.9M302.5 447.2V514.3M303.5 460.0V509.8M304.5 464.7V526.8M305.5 436.6V506.1M306.5 464.2V509.1M307.5 433.1V506.3M308.5 451.7V523.3M309.5 459.5V520.4M310.5 459.4V513.4M311.5 447.9V525.6M312.5 463.6V509.2M313.5 436.8V524.1M314.5 441.5V517.3M315.5 459.7V510.8M316.5 464.0V510.1M317.5 451.6V512.7M318.5 465.9V506.0M319.5 443.3V525.2M320.5 440.8V523.1M321.5 466.6V506.9M322.5 472.7V504.8M323.5 440.4V501.0M324.5 462.1V523.5M325.5 466.5V510.3M326.5 464.8V508.6M327.5 464.2V523.8M328.5 457.0V510.1M329.5 444.8V507.9M330.5 463.3V511.7M331.5 455.5V519.8M332.5 459.4V527.3M333.5 442.7V554.8M334.5 457.9V515.5M335.5 453.4V511.0M336.5 458.1V513.0M337.5 460.3V518.5M338.5 437.9V511.3M339.5 463.2V521.1M340.5 461.4V519.2M341.5 445.0V509.0M342.5 466.7V510.2M343.5 466.4V511.9M344.5 462.0V535.7M345.5 457.8V527.1M346.5 464.6V512.6M347.5 459.0V509.0M348.5 457.2V513.9M349.5 462.2V540.8M350.5 463.8V518.8M351.5 446.2V518.2M352.5 454.9V541.6M353.5 436.9V527.1M354.5 452.4V517.2M355.5 470.5V546.6M356.5 439.5V522.1M357.5 466.1V522.6M358.5 467.1V545.0M359.5 466.5V548.6M360.5 452.8V526.7M361.5 460.4V528.4M362.5 461.9V519.8M363.5 452.6V535.5M364.5 469.3V543.4M365.5 450.9V544.3M366.5 458.6V521.8M367.5 468.5V534.4M368.5 460.7V528.2M369.5 468.5V527.5M370.5 466.9V523.9M371.5 452.6V528.3M372.5 469.3V542.6M373.5 453.5V524.3M374.5 442.0V547.6M375.5 465.0V544.7M376.5 457.5V534.8M377.5 455.5V530.8M378.5 452.8V532.7M379.5 447.0V533.2M380.5 465.6V526.8M381.5 465.9V533.5M382.5 454.6V521.9M383.5 440.7V524.1M384.5 443.6V525.4M385.5 433.1V529.5M386.5 462.1V525.5M387.5 468.9V529.3M388.5 449.9V528.2M389.5 464.1V527.8M390.5 439.0V531.8M391.5 460.9V526.2M392.5 457.3V526.8M393.5 467.8V541.6M394.5 459.8V528.4M395.5 460.2V521.1M396.5 463.7V524.3M397.5 466.0V525.7M398.5 460.6V519.9M399.5 461.3V533.3M400.5 456.0V521.9M401.5 463.8V523.2M402.5 457.9V540.6M403.5 469.0V528.6M404.5 440.7V535.4M405.5 460.4V527.2M406.5 440.1V534.6M407.5 457.6V534.3M408.5 464.5V525.7M409.5 469.3V523.8M410.5 454.9V553.9M411.5 450.7V519.9M412.5 454.5V521.2M413.5 464.4V529.2M414.5 464.2V521.8M415.5 436.8V521.4M416.5 432.1V550.2M417.5 452.9V522.0M418.5 447.4V520.6M419.5 457.2V520.7M420.5 460.0V521.5M421.5 457.3V520.4M422.5 464.8V545.7M423.5 462.4V521.2M424.5 473.1V520.0M425.5 469.8V516.6M426.5 463.3V517.2M427.5 465.5V517.8M428.5 473.3V520.5M429.5 455.5V532.6M430.5 472.5V523.2M431.5 472.2V520.4M432.5 468.5V522.5M433.5 475.7V547.4M434.5 449.8V524.0M435.5 471.4V518.8M436.5 465.7V545.2M437.5 466.3V530.5M438.5 456.6V523.4M439.5 466.0V543.3M440.5 445.8V518.7M441.5 475.6V516.4M442.5 477.0V517.0M443.5 475.5V513.7M444.5 470.7V515.7M445.5 482.8V519.2M446.5 480.6V522.3M447.5 475.2V526.1M448.5 482.7V527.9M449.5 476.6V552.3M450.5 485.2V532.9M451.5 461.9V536.1M452.5 483.1V522.3M453.5 483.4V525.7M454.5 474.7V525.7M455.5 481.2V540.7M456.5 482.4V523.6M457.5 467.7V524.8M458.5 485.7V552.7M459.5 487.0V555.6M460.5 487.7V527.4M461.5 461.7V525.8M462.5 485.6V531.9M463.5 469.3V531.6M464.5 461.9V534.3M465.5 456.3V561.0M466.5 472.5V555.1M467.5 485.9V538.5M468.5 483.6V537.8M469.5 481.8V557.0M470.5 483.3V538.8M471.5 472.2V554.7M472.5 478.2V558.1M473.5 485.2V540.8M474.5 485.7V552.9M475.5 482.9V533.8M476.5 468.3V529.0M477.5 486.5V532.7M478.5 481.8V535.5M479.5 485.1V540.9M480.5 473.8V536.4M481.5 482.2V545.6M482.5 468.9V544.7M483.5 477.2V539.0M484.5 478.8V548.5M485.5 478.9V544.4M486.5 482.1V526.1M487.5 478.9V530.1M488.5 480.8V534.6M489.5 446.4V528.4M490.5 461.5V561.0M491.5 479.1V531.6M492.5 484.2V533.8M493.5 471.7V535.6M494.5 476.8V534.4M495.5 476.2V528.6M496.5 471.7V532.3M497.5 475.7V534.8M498.5 488.3V541.7M499.5 478.4V551.7M500.5 459.8V527.7M501.5 479.6V531.0M502.5 463.5V529.2M503.5 457.7V525.2M504.5 473.4V540.5M505.5 471.4V526.9M506.5 483.2V529.7M507.5 469.0V540.2M508.5 478.0V549.4M509.5 469.9V532.0M510.5 452.6V536.1M511.5 478.5V529.4M512.5 481.1V537.8M513.5 481.7V549.5M514.5 475.4V551.8M515.5 461.0V534.2M516.5 475.3V530.3M517.5 454.5V548.0M518.5 480.5V530.8M519.5 459.5V534.3M520.5 480.8V555.5M521.5 482.5V533.6M522.5 483.2V534.7M523.5 477.4V544.4M524.5 468.0V544.1M525.5 455.2V531.4M526.5 478.3V541.7M527.5 470.4V529.3M528.5 480.7V532.7M529.5 479.6V539.2M530.5 473.4V563.4M531.5 468.0V539.9M532.5 480.8V547.9M533.5 474.5V564.4M534.5 462.2V570.4M535.5 478.9V544.8M536.5 487.1V545.5M537.5 459.9V542.8M538.5 491.6V549.1M539.5 465.2V544.6M540.5 488.8V556.3M541.5 482.2V556.1M542.5 479.2V547.1M543.5 470.0V549.2M544.5 463.4V551.5M545.5 488.3V557.3M546.5 469.5V542.2M547.5 491.9V558.5M548.5 476.1V546.7M549.5 484.7V532.0M550.5 485.5V536.6M551.5 466.9V555.1M552.5 475.9V540.7M553.5 480.8V537.0M554.5 489.8V541.9M555.5 482.9V548.1M556.5 483.7V539.2M557.5 488.5V536.1M558.5 467.8V551.0M559.5 486.3V549.5M560.5 483.0V562.6M561.5 477.8V547.0M562.5 475.4V549.5M563.5 484.5V551.7M564.5 488.4V560.7M565.5 470.0V541.5M566.5 494.7V544.5M567.5 494.0V539.0M568.5 475.9V542.4M569.5 494.1V567.8M570.5 491.8V540.7M571.5 474.0V535.6M572.5 486.4V540.5M573.5 488.0V559.0M574.5 485.0V537.2M575.5 488.1V562.2M576.5 476.7V548.9M577.5 488.3V543.4M578.5 483.9V544.3M579.5 487.0V546.8M580.5 476.4V549.0M581.5 489.7V535.3M582.5 488.8V553.6M583.5 485.8V540.6M584.5 475.3V558.4M585.5 472.9V568.1M586.5 483.9V547.8M587.5 480.8V537.2M588.5 491.6V542.3M589.5 491.6V542.3M590.5 484.5V543.8M591.5 483.5V549.4M592.5 491.9V544.8M593.5 492.3V544.3M594.5 485.7V572.5M595.5 475.2V544.7M596.5 476.2V542.1M597.5 463.9V544.0M598.5 488.5V568.6M599.5 487.5V553.0M600.5 480.0V558.5M601.5 480.3V542.6M602.5 468.5V564.0M603.5 467.5V544.8M604.5 492.9V540.7M605.5 487.8V549.6M606.5 491.9V555.2M607.5 492.5V538.4M608.5 465.9V539.0M609.5 489.9V539.9M610.5 488.5V556.1M611.5 487.8V543.7M612.5 476.3V548.6M613.5 487.7V556.5M614.5 471.1V540.3M615.5 488.8V564.1M616.5 492.2V537.5M617.5 483.4V552.0M618.5 491.7V551.6M619.5 494.3V539.1M620.5 498.4V553.1M621.5 502.1V544.0M622.5 479.0V560.0M623.5 495.5V562.4M624.5 474.7V564.5M625.5 501.7V555.2M626.5 501.9V554.2M627.5 490.6V553.1M628.5 481.3V580.2M629.5 504.3V578.4M630.5 493.0V577.6M631.5 505.1V555.2M632.5 506.4V557.1M633.5 503.8V572.2M634.5 504.8V559.1M635.5 504.4V559.9M636.5 495.1V555.9M637.5 487.9V565.4M638.5 504.3V552.4M639.5 502.5V572.5M640.5 487.6V556.0M641.5 491.3V549.7M642.5 492.0V559.1M643.5 497.8V558.7M644.5 505.5V548.1M645.5 492.9V557.4M646.5 490.9V552.5M647.5 501.9V563.9M648.5 505.3V554.4M649.5 497.3V555.4M650.5 499.1V556.7M651.5 494.3V554.3M652.5 485.7V556.0M653.5 498.6V561.3M654.5 494.6V550.1M655.5 471.3V544.8M656.5 500.8V577.8M657.5 507.2V551.2M658.5 498.2V557.3M659.5 490.6V548.0M660.5 502.6V547.9M661.5 498.7V550.8M662.5 482.6V552.3M663.5 498.4V566.1M664.5 494.6V569.8M665.5 505.5V554.6M666.5 499.6V574.4M667.5 506.6V558.9M668.5 508.9V575.6M669.5 504.8V553.3M670.5 504.6V566.6M671.5 502.9V561.4M672.5 504.0V542.9M673.5 501.3V546.1M674.5 509.4V562.5M675.5 502.2V546.5M676.5 500.1V547.1M677.5 504.4V549.7M678.5 502.4V563.8M679.5 504.0V543.3M680.5 504.2V544.6M681.5 505.2V543.9M682.5 499.9V553.9M683.5 508.7V567.9M684.5 481.2V563.8M685.5 488.1V546.7M686.5 499.7V554.4M687.5 499.1V555.2M688.5 504.5V555.9M689.5 488.7V575.1M690.5 490.6V566.9M691.5 501.7V550.3M692.5 503.6V553.6M693.5 496.7V560.6M694.5 490.7V553.5M695.5 498.4V574.2M696.5 503.1V551.7M697.5 503.5V550.8M698.5 503.0V550.6M699.5 479.5V554.5M700.5 501.3V555.8M701.5 500.1V576.7M702.5 496.3V556.3M703.5 501.0V562.5M704.5 490.3V577.3M705.5 513.1V555.3M706.5 512.5V568.4M707.5 511.6V569.3M708.5 508.9V586.7M709.5 500.2V579.0M710.5 509.1V580.2M711.5 494.6V565.8M712.5 507.9V590.3M713.5 511.5V586.7M714.5 513.5V561.3M715.5 509.5V584.7M716.5 488.3V564.8M717.5 488.2V568.3M718.5 512.3V575.4M719.5 512.9V570.1M720.5 499.3V569.7M721.5 487.0V586.5M722.5 490.6V576.0M723.5 503.9V581.8M724.5 512.7V573.4M725.5 503.3V581.7M726.5 513.0V571.8M727.5 501.4V595.4M728.5 510.3V568.1M729.5 503.8V595.4M730.5 511.3V577.4M731.5 507.3V570.8M732.5 493.6V594.4M733.5 501.1V574.1M734.5 507.7V577.4M735.5 514.3V580.5M736.5 516.1V567.5M737.5 495.8V576.0M738.5 520.1V573.8M739.5 514.4V574.7M740.5 490.7V565.0M741.5 500.2V564.6M742.5 501.9V589.7M743.5 513.9V561.5M744.5 509.9V562.4M745.5 511.9V568.3M746.5 511.8V572.9M747.5 509.0V580.0M748.5 512.0V589.0M749.5 512.3V564.5M750.5 505.9V585.6M751.5 514.6V568.9M752.5 513.0V572.0M753.5 495.5V570.2M754.5 514.9V565.6M755.5 515.4V586.6M756.5 499.0V581.8M757.5 491.1V563.0M758.5 514.8V576.7M759.5 484.8V586.7M760.5 512.8V577.8M761.5 513.2V573.5M762.5 504.9V559.8M763.5 494.8V560.7M764.5 501.7V570.7M765.5 507.9V562.9M766.5 491.4V569.6M767.5 517.1V563.8M768.5 505.6V576.3M769.5 504.6V581.0M770.5 520.3V588.3M771.5 519.3V564.4M772.5 518.2V578.9M773.5 510.1V570.2M774.5 515.5V571.7M775.5 520.4V570.8M776.5 498.5V570.9M777.5 517.1V576.6M778.5 517.3V570.0M779.5 520.1V568.2M780.5 517.3V566.8M781.5 518.9V566.2M782.5 519.7V578.8M783.5 496.7V567.8M784.5 511.6V580.5M785.5 488.1V584.3M786.5 509.4V568.9M787.5 513.7V590.2M788.5 514.7V583.9M789.5 512.9V588.5M790.5 515.8V570.9M791.5 502.4V593.0M792.5 515.6V567.2M793.5 498.7V565.1M794.5 515.7V570.1M795.5 519.2V569.0M796.5 518.2V574.1M797.5 490.9V597.8M798.5 504.3V585.6M799.5 512.2V576.5M800.5 522.8V572.3M801.5 521.7V575.0M802.5 523.1V571.0M803.5 526.2V577.9M804.5 503.5V581.0M805.5 514.7V576.1M806.5 519.7V578.2M807.5 513.1V601.8M808.5 519.6V586.7M809.5 498.8V575.1M810.5 525.1V581.3M811.5 508.1V576.9M812.5 524.5V576.8M813.5 510.3V572.3M814.5 527.3V579.7M815.5 523.4V585.8M816.5 526.7V576.4M817.5 529.2V605.2M818.5 527.3V586.2M819.5 529.9V579.7M820.5 526.5V577.2M821.5 522.5V582.3M822.5 529.1V606.6M823.5 528.4V594.2M824.5 522.3V577.8M825.5 513.3V589.6M826.5 511.2V580.9M827.5 522.8V590.1M828.5 500.6V577.0M829.5 526.0V606.4M830.5 505.2V576.9M831.5 513.5V592.7M832.5 528.4V573.8M833.5 518.9V584.1M834.5 517.1V586.3M835.5 527.8V573.3M836.5 520.4V574.3M837.5 503.8V581.8M838.5 511.5V589.3M839.5 510.8V580.2M840.5 507.4V579.9M841.5 522.2V596.0M842.5 499.2V575.6M843.5 505.6V599.2M844.5 516.2V572.4M845.5 497.9V569.9M846.5 526.6V598.9M847.5 515.9V579.9M848.5 517.6V568.8M849.5 511.6V600.7M850.5 512.2V582.9M851.5 523.4V576.9M852.5 499.6V601.3M853.5 520.1V574.7M854.5 514.6V581.4M855.5 510.8V593.7M856.5 505.3V589.7M857.5 514.1V570.9M858.5 521.1V582.9M859.5 496.3V582.5M860.5 512.5V573.9M861.5 521.7V589.7M862.5 496.8V572.0M863.5 511.4V597.6M864.5 491.9V582.9M865.5 520.7V579.2M866.5 525.0V576.4M867.5 507.3V588.7M868.5 500.2V604.4M869.5 523.7V583.7M870.5 515.5V581.9M871.5 520.2V576.7M872.5 521.5V592.0M873.5 519.8V605.2M874.5 500.0V580.9M875.5 500.5V581.9M876.5 511.2V584.0M877.5 508.1V600.6M878.5 523.3V580.9M879.5 525.2V598.0M880.5 509.0V598.7M881.5 520.2V582.8M882.5 525.7V587.3M883.5 527.9V584.0M884.5 528.2V608.4M885.5 514.0V590.0M886.5 521.7V586.5M887.5 503.6V608.6M888.5 531.2V611.2M889.5 532.2V594.5M890.5 515.9V591.2M891.5 531.1V595.1M892.5 538.6V594.0M893.5 533.2V605.1M894.5 520.4V586.9M895.5 523.7V593.0M896.5 535.6V611.5M897.5 525.0V593.8M898.5 523.4V616.9M899.5 535.3V586.2M900.5 528.4V605.7M901.5 533.9V585.7M902.5 542.6V588.3M903.5 533.8V588.0M904.5 531.1V588.3M905.5 536.7V589.8M906.5 533.4V588.7M907.5 536.0V581.9M908.5 537.9V581.9M909.5 532.7V593.7M910.5 534.4V588.4M911.5 526.9V612.6M912.5 526.0V584.6M913.5 532.3V584.1M914.5 539.1V584.3M915.5 537.8V586.1M916.5 524.5V611.6M917.5 534.9V593.0M918.5 538.0V586.8M919.5 531.2V584.9M920.5 509.8V587.0M921.5 527.2V582.8M922.5 523.4V604.0M923.5 532.0V583.1M924.5 517.2V593.5M925.5 529.6V583.9M926.5 531.0V609.6M927.5 524.7V591.9M928.5 523.6V582.8M929.5 511.5V585.4M930.5 508.6V584.8M931.5 518.0V585.3M932.5 530.9V603.4M933.5 535.5V585.9M934.5 535.6V599.7M935.5 529.4V599.6M936.5 525.7V586.0M937.5 523.6V610.2M938.5 509.2V612.6M939.5 503.3V589.5M940.5 526.7V594.1M941.5 521.3V586.5M942.5 535.4V585.2M943.5 536.3V613.5M944.5 527.4V584.9M945.5 532.7V592.2M946.5 529.9V601.2M947.5 536.6V593.0M948.5 529.3V608.7M949.5 528.9V619.4M950.5 526.0V592.6M951.5 540.5V605.0M952.5 538.2V604.5" fill="none" stroke="#e3003b" stroke-width="1.5"/></g>
<g clip-path="url(#c1)"><path d="M106.5 456.5V465.9M107.5 457.2V465.8M108.5 457.1V466.5M109.5 457.5V467.1M110.5 456.9V467.5M111.5 456.2V466.1M112.5 454.9V465.1M113.5 455.5V464.5M114.5 453.9V464.1M115.5 456.8V465.7M116.5 455.3V465.9M117.5 453.6V465.6M118.5 456.0V465.5M119.5 457.2V466.4M120.5 454.5V464.2M121.5 453.4V465.0M122.5 457.4V465.8M123.5 456.5V466.5M124.5 457.0V466.4M125.5 457.2V466.7M126.5 457.3V466.4M127.5 454.8V464.8M128.5 456.7V466.6M129.5 455.5V465.9M130.5 453.2V464.1M131.5 456.1V465.4M132.5 455.7V466.2M133.5 456.5V466.6M134.5 455.7V466.5M135.5 455.9V466.1M136.5 454.8V466.0M137.5 455.3V464.9M138.5 454.7V463.7M139.5 453.6V464.9M140.5 453.1V464.7M141.5 455.6V464.8M142.5 455.8V467.2M143.5 457.0V465.9M144.5 458.2V468.4M145.5 458.1V468.9M146.5 460.0V469.5M147.5 458.7V467.8M148.5 459.4V469.5M149.5 456.4V466.8M150.5 456.7V466.2M151.5 454.8V465.8M152.5 456.4V466.3M153.5 456.6V465.4M154.5 457.6V468.3M155.5 458.8V469.7M156.5 457.5V466.9M157.5 456.9V465.3M158.5 457.5V466.2M159.5 455.9V464.3M160.5 454.8V465.6M161.5 453.7V465.5M162.5 456.9V466.6M163.5 456.5V467.0M164.5 456.6V466.1M165.5 456.5V466.1M166.5 458.3V467.1M167.5 457.0V466.1M168.5 457.8V466.5M169.5 458.3V468.5M170.5 459.0V468.0M171.5 457.9V466.5M172.5 458.2V466.3M173.5 457.9V467.4M174.5 455.4V465.0M175.5 454.5V463.4M176.5 454.7V463.7M177.5 454.0V463.7M178.5 455.4V464.1M179.5 454.8V465.0M180.5 454.8V465.7M181.5 456.8V465.9M182.5 456.5V465.6M183.5 454.7V464.8M184.5 456.8V465.5M185.5 457.2V466.4M186.5 458.5V466.8M187.5 460.0V468.6M188.5 461.6V470.9M189.5 461.8V470.0M190.5 462.2V473.1M191.5 466.4V475.8M192.5 467.1V477.9M193.5 468.7V477.2M194.5 469.8V480.6M195.5 469.0V478.9M196.5 468.3V477.2M197.5 467.1V477.0M198.5 466.3V475.1M199.5 464.1V473.5M200.5 463.4V473.0M201.5 461.6V471.7M202.5 460.9V470.6M203.5 462.8V473.2M204.5 464.0V473.0M205.5 463.8V473.2M206.5 465.7V475.1M207.5 466.1V476.4M208.5 464.4V474.3M209.5 466.0V475.0M210.5 466.0V474.9M211.5 465.2V475.2M212.5 464.7V475.8M213.5 467.0V476.8M214.5 466.6V476.8M215.5 464.9V474.9M216.5 464.7V473.4M217.5 465.6V474.7M218.5 464.7V473.9M219.5 464.3V474.9M220.5 465.8V474.1M221.5 466.1V475.1M222.5 465.7V476.3M223.5 466.0V475.2M224.5 466.6V475.6M225.5 467.4V476.9M226.5 466.8V476.5M227.5 467.6V477.8M228.5 466.0V475.7M229.5 466.2V476.4M230.5 465.9V475.5M231.5 465.7V476.5M232.5 465.9V475.9M233.5 467.1V476.8M234.5 467.3V475.8M235.5 467.1V478.0M236.5 466.1V475.2M237.5 466.6V476.2M238.5 465.6V475.5M239.5 464.7V473.2M240.5 463.8V473.5M241.5 465.2V474.6M242.5 463.0V474.7M243.5 464.1V473.7M244.5 465.2V474.3M245.5 463.9V474.2M246.5 465.6V475.3M247.5 466.8V475.7M248.5 466.3V477.0M249.5 467.1V476.6M250.5 464.9V475.5M251.5 464.3V474.6M252.5 462.4V473.1M253.5 464.8V475.6M254.5 464.3V472.9M255.5 465.8V474.4M256.5 465.2V474.5M257.5 465.0V475.2M258.5 465.3V474.4M259.5 465.4V476.2M260.5 464.9V473.7M261.5 465.3V474.2M262.5 466.5V474.9M263.5 465.0V474.9M264.5 465.9V476.1M265.5 465.8V476.3M266.5 467.8V476.7M267.5 465.1V476.0M268.5 468.5V478.6M269.5 466.2V476.5M270.5 465.2V474.5M271.5 465.9V475.1M272.5 467.2V477.1M273.5 470.3V479.5M274.5 472.5V482.1M275.5 476.6V485.6M276.5 479.4V488.5M277.5 481.0V492.4M278.5 481.3V489.9M279.5 481.9V490.9M280.5 481.6V491.2M281.5 479.5V491.1M282.5 479.1V487.8M283.5 478.6V487.4M284.5 477.7V486.6M285.5 477.4V487.8M286.5 478.5V488.3M287.5 478.8V487.3M288.5 478.7V488.7M289.5 478.3V487.4M290.5 478.7V489.6M291.5 478.2V488.2M292.5 477.3V489.1M293.5 478.6V489.0M294.5 479.9V489.3M295.5 477.5V487.6M296.5 478.4V489.2M297.5 478.8V487.5M298.5 476.9V487.2M299.5 478.1V487.2M300.5 477.2V488.4M301.5 477.5V487.3M302.5 479.5V487.6M303.5 477.0V488.3M304.5 478.3V489.9M305.5 477.7V488.0M306.5 477.1V486.1M307.5 475.5V487.5M308.5 475.7V486.3M309.5 474.5V483.8M310.5 474.5V485.2M311.5 475.6V485.7M312.5 477.7V487.5M313.5 477.1V485.5M314.5 476.1V485.1M315.5 477.7V486.6M316.5 477.9V487.2M317.5 476.9V486.0M318.5 480.0V489.0M319.5 481.0V490.2M320.5 478.2V489.5M321.5 479.6V489.2M322.5 480.9V489.1M323.5 478.1V487.5M324.5 478.6V487.9M325.5 478.6V487.7M326.5 477.0V485.8M327.5 477.0V487.0M328.5 478.7V490.4M329.5 478.1V488.9M330.5 478.2V487.4M331.5 479.5V488.6M332.5 479.2V490.1M333.5 477.7V487.3M334.5 477.6V487.2M335.5 478.7V489.0M336.5 480.1V488.5M337.5 479.2V488.8M338.5 480.5V489.6M339.5 479.8V488.1M340.5 478.7V487.8M341.5 476.4V486.8M342.5 477.5V487.8M343.5 478.2V487.5M344.5 477.8V486.3M345.5 476.4V486.3M346.5 478.1V487.0M347.5 475.5V485.0M348.5 477.2V487.7M349.5 478.4V488.0M350.5 479.3V488.2M351.5 477.7V487.9M352.5 481.1V489.9M353.5 482.0V491.3M354.5 483.9V492.0M355.5 485.6V494.9M356.5 487.8V496.7M357.5 487.5V497.4M358.5 489.8V498.1M359.5 489.2V499.6M360.5 487.8V500.2M361.5 488.5V498.4M362.5 488.6V497.6M363.5 488.6V497.8M364.5 487.6V498.3M365.5 487.6V497.9M366.5 486.1V496.1M367.5 486.9V496.9M368.5 488.5V498.2M369.5 488.0V497.4M370.5 489.2V499.7M371.5 490.6V499.6M372.5 490.7V500.3M373.5 490.0V500.0M374.5 490.8V499.7M375.5 488.2V498.7M376.5 488.4V498.0M377.5 488.5V496.7M378.5 487.5V498.4M379.5 489.3V498.3M380.5 490.6V499.3M381.5 489.4V499.8M382.5 490.5V500.5M383.5 489.5V500.6M384.5 488.1V499.0M385.5 486.8V497.3M386.5 488.5V499.6M387.5 489.1V498.4M388.5 488.4V498.1M389.5 489.5V498.4M390.5 490.2V500.9M391.5 486.8V497.7M392.5 487.0V496.8M393.5 486.9V497.1M394.5 488.3V497.3M395.5 488.0V496.3M396.5 488.8V497.7M397.5 489.4V498.1M398.5 489.6V500.3M399.5 489.2V497.6M400.5 489.5V499.4M401.5 488.3V499.2M402.5 486.4V496.6M403.5 487.8V497.8M404.5 486.2V497.5M405.5 487.4V496.9M406.5 485.4V496.4M407.5 486.9V496.7M408.5 486.5V495.3M409.5 486.2V496.2M410.5 485.1V495.4M411.5 485.6V495.7M412.5 487.1V497.5M413.5 488.1V496.7M414.5 488.9V498.2M415.5 490.2V499.4M416.5 489.9V500.9M417.5 490.2V500.3M418.5 491.3V500.8M419.5 489.3V500.4M420.5 487.9V497.6M421.5 490.0V498.7M422.5 488.5V498.5M423.5 490.0V498.4M424.5 488.8V498.8M425.5 490.7V500.5M426.5 490.5V500.5M427.5 489.2V499.2M428.5 489.1V497.9M429.5 489.1V498.2M430.5 488.2V497.4M431.5 489.6V498.1M432.5 489.4V500.0M433.5 490.3V500.2M434.5 489.8V499.3M435.5 491.4V500.6M436.5 489.1V499.2M437.5 487.9V497.6M438.5 487.4V497.0M439.5 487.1V498.2M440.5 487.9V498.1M441.5 487.0V497.7M442.5 488.7V499.1M443.5 489.8V500.0M444.5 489.6V498.4M445.5 489.2V499.2M446.5 494.7V503.5M447.5 496.2V506.0M448.5 497.5V507.0M449.5 500.2V510.6M450.5 502.6V511.2M451.5 501.5V511.5M452.5 501.4V511.7M453.5 501.4V509.9M454.5 500.4V509.4M455.5 500.3V510.3M456.5 498.7V509.4M457.5 498.3V507.2M458.5 498.7V508.1M459.5 498.7V508.4M460.5 496.7V506.3M461.5 498.0V508.5M462.5 498.2V507.6M463.5 498.9V507.4M464.5 499.1V508.5M465.5 499.7V510.6M466.5 501.0V511.6M467.5 501.1V510.7M468.5 499.6V509.7M469.5 499.7V511.1M470.5 499.5V509.7M471.5 500.4V510.1M472.5 502.0V512.2M473.5 503.5V511.8M474.5 502.5V512.1M475.5 502.1V512.7M476.5 500.5V510.6M477.5 499.3V508.6M478.5 499.2V508.5M479.5 499.9V509.2M480.5 498.7V507.6M481.5 497.9V508.3M482.5 500.4V509.9M483.5 501.5V510.6M484.5 502.3V511.6M485.5 503.0V513.0M486.5 500.7V511.3M487.5 498.7V510.4M488.5 498.6V508.2M489.5 497.9V508.3M490.5 496.7V507.2M491.5 497.5V508.4M492.5 498.4V507.3M493.5 498.1V506.4M494.5 498.5V510.1M495.5 500.1V509.6M496.5 499.4V510.5M497.5 500.2V509.4M498.5 501.0V510.3M499.5 499.8V511.7M500.5 500.1V509.0M501.5 497.6V508.2M502.5 498.6V507.7M503.5 498.3V507.3M504.5 499.1V507.8M505.5 499.8V509.5M506.5 499.0V509.1M507.5 500.8V510.9M508.5 501.2V511.0M509.5 501.7V510.2M510.5 500.6V509.4M511.5 500.5V511.0M512.5 501.5V511.5M513.5 502.3V512.4M514.5 500.2V512.5M515.5 502.1V511.5M516.5 500.0V510.3M517.5 500.2V509.7M518.5 500.2V509.8M519.5 501.8V511.8M520.5 499.3V508.8M521.5 498.2V509.4M522.5 501.6V511.4M523.5 499.1V510.2M524.5 501.6V510.7M525.5 500.7V510.0M526.5 500.9V511.6M527.5 500.5V510.8M528.5 500.0V509.7M529.5 500.6V510.5M530.5 503.6V513.3M531.5 504.9V514.8M532.5 506.7V515.2M533.5 510.6V520.7M534.5 510.7V521.3M535.5 512.2V521.1M536.5 511.4V520.9M537.5 511.9V520.5M538.5 509.4V519.8M539.5 510.4V520.4M540.5 510.0V518.6M541.5 508.0V518.4M542.5 508.8V518.2M543.5 510.1V519.0M544.5 510.3V519.7M545.5 510.1V521.7M546.5 509.1V522.4M547.5 508.4V519.3M548.5 508.9V517.7M549.5 507.3V517.0M550.5 509.3V519.7M551.5 508.7V518.7M552.5 511.2V519.6M553.5 511.0V519.8M554.5 511.8V520.8M555.5 511.4V522.6M556.5 512.6V521.6M557.5 510.9V521.9M558.5 513.5V523.3M559.5 513.1V523.1M560.5 510.9V520.7M561.5 511.9V521.7M562.5 509.4V520.6M563.5 509.3V519.6M564.5 509.1V519.8M565.5 510.2V520.4M566.5 510.6V521.9M567.5 513.1V522.2M568.5 509.3V521.6M569.5 512.9V522.3M570.5 511.1V522.0M571.5 510.6V521.0M572.5 512.9V522.3M573.5 511.1V522.2M574.5 511.4V520.3M575.5 510.7V521.0M576.5 510.2V519.6M577.5 507.7V518.1M578.5 510.2V519.2M579.5 510.5V520.4M580.5 510.8V519.1M581.5 510.5V519.6M582.5 510.1V520.1M583.5 511.5V521.4M584.5 510.2V520.0M585.5 507.7V519.1M586.5 507.2V518.5M587.5 508.1V518.8M588.5 507.2V518.6M589.5 508.4V517.1M590.5 510.1V520.0M591.5 509.2V520.5M592.5 510.6V521.0M593.5 511.7V520.5M594.5 511.4V520.5M595.5 509.6V518.6M596.5 510.7V519.5M597.5 508.4V518.0M598.5 508.2V517.1M599.5 507.9V519.8M600.5 510.0V520.5M601.5 510.5V520.0M602.5 511.3V520.9M603.5 512.1V521.4M604.5 510.6V519.8M605.5 510.1V520.7M606.5 510.1V518.5M607.5 511.2V521.5M608.5 510.4V520.1M609.5 511.6V519.8M610.5 511.4V520.5M611.5 510.7V520.9M612.5 507.5V518.6M613.5 508.7V518.8M614.5 510.5V519.6M615.5 509.5V518.4M616.5 507.8V518.2M617.5 511.2V519.9M618.5 512.3V520.6M619.5 512.1V521.7M620.5 514.5V524.5M621.5 518.4V527.4M622.5 520.8V530.3M623.5 523.2V531.9M624.5 523.4V533.2M625.5 525.7V534.6M626.5 523.9V533.7M627.5 524.0V534.0M628.5 523.3V531.8M629.5 523.4V532.9M630.5 522.4V531.3M631.5 522.5V530.7M632.5 522.0V531.6M633.5 521.0V529.3M634.5 518.7V528.2M635.5 517.8V527.8M636.5 518.3V528.4M637.5 518.6V529.0M638.5 519.6V529.5M639.5 521.6V531.8M640.5 522.0V531.9M641.5 523.3V533.4M642.5 523.1V532.2M643.5 523.7V533.1M644.5 522.6V533.9M645.5 522.1V532.1M646.5 520.6V530.8M647.5 520.4V529.8M648.5 521.3V531.3M649.5 520.0V530.1M650.5 521.4V530.8M651.5 520.1V530.5M652.5 520.4V530.7M653.5 520.3V529.4M654.5 519.7V531.8M655.5 519.1V529.5M656.5 520.5V531.0M657.5 522.3V531.2M658.5 521.4V530.6M659.5 519.7V530.8M660.5 520.0V530.6M661.5 521.4V530.8M662.5 521.2V530.5M663.5 522.2V532.6M664.5 523.1V532.8M665.5 521.9V531.4M666.5 520.9V531.9M667.5 518.6V530.2M668.5 521.2V530.4M669.5 520.4V530.2M670.5 519.4V529.4M671.5 520.7V531.1M672.5 521.0V532.0M673.5 520.1V530.3M674.5 520.6V530.9M675.5 521.3V532.4M676.5 521.8V530.3M677.5 519.7V530.4M678.5 520.4V530.6M679.5 522.7V532.0M680.5 523.1V532.6M681.5 520.6V530.8M682.5 519.9V530.3M683.5 520.1V529.3M684.5 517.9V529.3M685.5 518.0V528.5M686.5 518.4V528.7M687.5 520.0V528.4M688.5 518.8V528.8M689.5 521.0V530.8M690.5 520.6V530.9M691.5 519.4V529.5M692.5 520.2V529.7M693.5 521.3V530.8M694.5 521.2V531.0M695.5 520.1V530.1M696.5 520.4V531.8M697.5 521.1V530.9M698.5 520.5V531.2M699.5 523.1V531.6M700.5 521.7V532.0M701.5 523.2V534.3M702.5 524.4V533.4M703.5 526.1V536.7M704.5 527.8V537.2M705.5 528.8V537.7M706.5 529.7V539.2M707.5 531.6V540.9M708.5 532.9V541.9M709.5 533.8V542.8M710.5 533.0V543.1M711.5 533.1V542.7M712.5 531.3V540.0M713.5 530.0V542.2M714.5 531.0V540.2M715.5 532.0V540.9M716.5 531.7V541.0M717.5 532.4V542.5M718.5 531.7V541.2M719.5 531.4V541.1M720.5 532.8V541.3M721.5 531.0V543.5M722.5 532.5V541.1M723.5 532.2V540.7M724.5 531.0V541.4M725.5 529.7V539.4M726.5 533.2V542.4M727.5 532.5V542.2M728.5 531.5V543.4M729.5 535.4V544.4M730.5 535.3V545.4M731.5 533.4V543.7M732.5 534.8V545.4M733.5 534.5V544.1M734.5 534.3V543.3M735.5 533.2V543.9M736.5 532.8V542.3M737.5 533.7V544.7M738.5 531.7V541.1M739.5 532.4V542.9M740.5 532.6V542.5M741.5 532.9V542.8M742.5 529.9V539.9M743.5 529.1V540.7M744.5 532.1V541.5M745.5 531.7V543.3M746.5 531.6V540.3M747.5 531.8V540.1M748.5 531.9V541.1M749.5 530.7V540.6M750.5 532.7V542.0M751.5 530.4V541.2M752.5 533.1V541.9M753.5 533.2V542.2M754.5 532.5V540.9M755.5 532.2V540.7M756.5 531.2V541.3M757.5 531.8V540.7M758.5 531.2V539.6M759.5 531.1V541.0M760.5 531.4V540.0M761.5 532.4V542.4M762.5 532.7V541.8M763.5 532.7V543.6M764.5 532.8V541.8M765.5 533.4V542.6M766.5 532.1V542.0M767.5 532.0V542.3M768.5 533.3V542.0M769.5 533.1V542.4M770.5 530.9V540.4M771.5 530.4V539.3M772.5 531.2V542.1M773.5 529.1V539.2M774.5 529.4V538.9M775.5 531.6V540.3M776.5 532.3V541.4M777.5 531.1V541.2M778.5 532.9V543.5M779.5 534.1V544.7M780.5 532.6V541.8M781.5 530.2V542.4M782.5 531.6V540.7M783.5 530.0V539.7M784.5 530.4V539.9M785.5 532.1V542.3M786.5 531.9V542.1M787.5 532.4V542.2M788.5 531.3V541.3M789.5 532.7V541.5M790.5 533.0V542.4M791.5 533.0V542.7M792.5 534.1V544.6M793.5 534.6V544.0M794.5 535.5V545.0M795.5 537.9V547.9M796.5 540.3V549.9M797.5 541.5V552.0M798.5 543.9V552.4M799.5 543.9V555.2M800.5 542.8V552.5M801.5 541.3V551.3M802.5 541.4V551.6M803.5 544.4V554.2M804.5 542.9V551.5M805.5 542.1V552.4M806.5 545.2V555.3M807.5 544.7V554.5M808.5 543.0V552.2M809.5 543.3V554.0M810.5 541.6V552.2M811.5 541.7V552.6M812.5 543.0V553.0M813.5 544.5V554.7M814.5 544.1V554.4M815.5 544.7V553.2M816.5 542.5V552.9M817.5 543.1V552.5M818.5 543.2V552.2M819.5 542.8V553.3M820.5 544.9V554.0M821.5 546.7V555.7M822.5 546.4V557.3M823.5 546.0V555.0M824.5 546.0V555.1M825.5 545.9V555.2M826.5 545.2V554.5M827.5 544.5V556.0M828.5 542.4V552.8M829.5 543.6V555.5M830.5 544.4V553.2M831.5 544.2V553.1M832.5 544.7V553.5M833.5 543.1V554.0M834.5 542.7V551.9M835.5 543.7V552.6M836.5 543.0V552.1M837.5 542.4V552.8M838.5 542.2V552.1M839.5 541.4V550.0M840.5 538.6V549.6M841.5 540.9V550.6M842.5 542.0V550.5M843.5 541.9V552.5M844.5 542.5V551.9M845.5 543.4V552.7M846.5 542.4V552.6M847.5 543.1V553.0M848.5 544.8V553.2M849.5 544.1V553.4M850.5 544.1V554.5M851.5 542.9V555.3M852.5 544.4V556.7M853.5 542.9V552.9M854.5 543.6V553.6M855.5 542.1V552.0M856.5 540.9V550.3M857.5 539.1V548.9M858.5 538.9V549.4M859.5 540.1V550.5M860.5 540.7V549.5M861.5 542.7V550.8M862.5 541.9V551.4M863.5 541.2V550.6M864.5 541.1V551.1M865.5 542.9V552.3M866.5 542.8V553.5M867.5 542.9V552.3M868.5 544.6V554.0M869.5 543.1V552.2M870.5 544.5V553.5M871.5 542.8V551.4M872.5 541.0V552.2M873.5 542.3V552.0M874.5 541.5V553.3M875.5 541.3V551.4M876.5 542.5V552.1M877.5 542.4V552.2M878.5 544.1V554.4M879.5 546.4V555.1M880.5 549.2V559.4M881.5 551.1V561.0M882.5 552.9V562.1M883.5 553.5V563.5M884.5 554.7V564.4M885.5 554.1V562.7M886.5 552.6V561.7M887.5 551.9V561.0M888.5 549.9V560.5M889.5 551.2V561.6M890.5 553.1V561.6M891.5 553.5V562.9M892.5 553.4V563.2M893.5 553.6V565.1M894.5 555.3V564.6M895.5 553.6V562.7M896.5 553.6V564.4M897.5 552.4V562.1M898.5 553.9V563.1M899.5 553.3V562.7M900.5 553.9V563.6M901.5 552.3V561.7M902.5 553.5V562.5M903.5 553.0V562.8M904.5 554.6V564.9M905.5 554.0V565.1M906.5 554.1V563.0M907.5 553.7V563.7M908.5 553.6V562.8M909.5 553.3V563.3M910.5 553.5V562.5M911.5 552.5V562.3M912.5 554.0V564.3M913.5 553.5V564.3M914.5 554.2V563.0M915.5 554.3V564.1M916.5 552.2V563.7M917.5 553.0V563.2M918.5 551.2V562.0M919.5 552.7V563.8M920.5 553.5V561.9M921.5 551.7V562.7M922.5 553.5V562.6M923.5 552.4V563.4M924.5 552.5V562.5M925.5 552.5V562.3M926.5 549.3V559.7M927.5 550.1V559.1M928.5 549.7V559.8M929.5 550.1V559.8M930.5 552.1V560.9M931.5 552.7V562.5M932.5 551.1V561.4M933.5 552.9V562.9M934.5 552.7V563.7M935.5 553.5V562.2M936.5 552.8V562.8M937.5 552.6V564.0M938.5 553.8V563.6M939.5 554.1V563.7M940.5 555.0V566.2M941.5 556.2V566.0M942.5 555.8V565.0M943.5 553.9V565.0M944.5 554.7V564.0M945.5 553.6V562.4M946.5 555.3V563.8M947.5 556.4V565.2M948.5 556.1V565.1M949.5 555.0V563.5M950.5 553.9V564.9M951.5 552.9V563.5M952.5 553.0V562.3" fill="none" stroke="#0000f2" stroke-width="1.25"/></g>
<clipPath id="c2"><rect x="106.3" y="682" width="846.0" height="244.89999999999998"/></clipPath>
<path d="M106.3 682V926.9H952.3V682" fill="none" stroke="#111" stroke-width="1.6"/>
<path d="M106.3 763h10" stroke="#111" stroke-width="1.4"/>
<path d="M106.3 876.4h10" stroke="#111" stroke-width="1.4"/>
<path d="M527 926.9v-10" stroke="#111" stroke-width="1.4"/>
<path d="M948 926.9v-10" stroke="#111" stroke-width="1.4"/>
<rect x="116.3" y="888.1" width="244.09999999999997" height="30.899999999999977" fill="#ebebeb"/>
<g clip-path="url(#c2)"><path d="M106.5 723.2V800.0M107.5 732.9V797.1M108.5 735.2V794.1M109.5 731.8V800.6M110.5 740.7V794.6M111.5 724.3V796.2M112.5 711.4V810.0M113.5 742.2V796.5M114.5 717.2V799.8M115.5 739.1V802.6M116.5 736.0V794.5M117.5 726.0V803.8M118.5 730.3V789.8M119.5 733.2V795.7M120.5 738.0V802.7M121.5 741.7V794.5M122.5 734.0V785.3M123.5 721.8V785.2M124.5 716.9V798.5M125.5 742.8V812.0M126.5 736.2V788.0M127.5 737.2V820.5M128.5 712.0V785.9M129.5 739.5V792.3M130.5 727.6V792.3M131.5 738.6V809.1M132.5 739.3V792.1M133.5 739.0V794.5M134.5 739.9V804.9M135.5 736.4V788.1M136.5 730.4V805.1M137.5 728.6V814.3M138.5 738.6V801.5M139.5 705.1V791.7M140.5 736.2V790.5M141.5 717.5V793.6M142.5 714.5V793.3M143.5 740.2V802.7M144.5 711.1V805.4M145.5 738.7V811.9M146.5 725.8V798.9M147.5 732.3V798.0M148.5 720.5V817.9M149.5 741.5V803.2M150.5 726.8V793.2M151.5 719.4V802.8M152.5 737.7V792.9M153.5 737.4V808.4M154.5 716.6V809.2M155.5 738.6V812.2M156.5 735.8V812.6M157.5 713.1V795.5M158.5 719.5V810.4M159.5 737.7V808.5M160.5 730.5V806.7M161.5 726.5V799.9M162.5 743.0V827.5M163.5 723.1V796.3M164.5 737.9V795.1M165.5 746.7V797.4M166.5 742.4V816.0M167.5 739.2V793.3M168.5 737.5V803.7M169.5 746.3V790.6M170.5 745.9V796.4M171.5 729.1V803.3M172.5 741.3V789.3M173.5 714.4V803.6M174.5 737.6V810.5M175.5 739.2V798.2M176.5 737.2V813.1M177.5 732.6V807.1M178.5 741.2V788.5M179.5 732.7V794.5M180.5 732.0V803.9M181.5 735.3V797.6M182.5 718.8V805.0M183.5 735.6V796.9M184.5 735.8V807.5M185.5 709.1V811.3M186.5 735.4V795.9M187.5 733.3V788.6M188.5 734.3V794.2M189.5 732.7V794.7M190.5 720.8V802.6M191.5 728.0V799.5M192.5 729.0V803.1M193.5 753.3V801.7M194.5 751.5V800.8M195.5 740.4V828.2M196.5 754.5V804.1M197.5 750.4V804.8M198.5 730.1V828.0M199.5 746.0V804.0M200.5 738.8V802.0M201.5 758.2V825.8M202.5 731.4V810.9M203.5 750.8V834.8M204.5 757.9V817.0M205.5 747.7V811.0M206.5 752.6V803.3M207.5 756.0V803.7M208.5 755.5V806.4M209.5 744.8V800.2M210.5 752.8V821.7M211.5 750.7V804.1M212.5 756.6V806.7M213.5 754.8V817.0M214.5 739.9V802.2M215.5 738.1V810.4M216.5 735.5V835.0M217.5 750.7V809.9M218.5 740.5V803.3M219.5 738.2V804.3M220.5 742.0V815.2M221.5 727.9V800.8M222.5 753.2V819.2M223.5 753.4V824.9M224.5 751.6V811.0M225.5 754.8V798.6M226.5 738.5V812.3M227.5 728.8V803.1M228.5 731.6V812.7M229.5 730.9V828.5M230.5 723.1V801.6M231.5 729.2V818.3M232.5 747.2V815.1M233.5 725.6V814.0M234.5 734.2V801.4M235.5 747.7V803.1M236.5 744.7V801.4M237.5 749.6V819.6M238.5 724.3V833.4M239.5 749.5V831.2M240.5 736.9V803.5M241.5 732.7V832.3M242.5 729.2V805.5M243.5 734.5V809.4M244.5 738.9V832.4M245.5 746.9V805.4M246.5 735.9V813.7M247.5 751.2V807.4M248.5 742.7V829.3M249.5 749.7V814.5M250.5 742.4V807.1M251.5 719.3V807.1M252.5 718.4V827.3M253.5 750.5V817.9M254.5 746.0V806.9M255.5 749.3V816.5M256.5 751.5V810.4M257.5 724.4V802.9M258.5 736.9V819.1M259.5 750.6V802.9M260.5 739.4V816.4M261.5 721.7V822.0M262.5 752.3V805.7M263.5 756.5V814.7M264.5 745.5V804.9M265.5 751.6V830.2M266.5 748.0V806.4M267.5 725.7V820.3M268.5 723.1V803.1M269.5 741.2V813.5M270.5 723.7V809.0M271.5 753.5V808.6M272.5 747.6V822.0M273.5 758.3V814.6M274.5 743.4V818.9M275.5 759.8V827.2M276.5 760.1V813.2M277.5 753.1V838.0M278.5 736.8V815.0M279.5 760.7V811.7M280.5 759.0V844.1M281.5 749.4V839.9M282.5 760.4V816.0M283.5 756.0V838.7M284.5 763.3V820.5M285.5 753.6V816.3M286.5 760.2V822.1M287.5 731.9V817.8M288.5 755.2V819.3M289.5 741.9V817.7M290.5 760.0V815.8M291.5 742.9V828.6M292.5 758.6V831.3M293.5 760.8V837.8M294.5 763.1V816.2M295.5 758.8V820.9M296.5 756.9V821.5M297.5 743.5V825.2M298.5 755.2V852.5M299.5 750.0V850.7M300.5 753.1V821.8M301.5 752.4V821.1M302.5 754.6V831.4M303.5 755.4V821.3M304.5 753.2V823.0M305.5 736.1V819.0M306.5 732.4V823.1M307.5 754.2V845.2M308.5 759.6V815.5M309.5 723.1V818.8M310.5 736.1V814.1M311.5 750.3V817.0M312.5 733.5V819.3M313.5 751.1V830.3M314.5 754.6V841.3M315.5 755.8V842.9M316.5 756.5V819.2M317.5 755.9V815.8M318.5 759.4V835.8M319.5 762.0V824.4M320.5 749.1V823.3M321.5 728.1V831.3M322.5 749.6V823.5M323.5 749.2V828.3M324.5 745.1V834.1M325.5 751.3V825.7M326.5 739.4V819.2M327.5 753.4V836.7M328.5 748.7V826.8M329.5 754.8V834.7M330.5 759.6V841.9M331.5 745.7V821.4M332.5 760.8V828.1M333.5 751.5V837.5M334.5 744.0V814.9M335.5 755.6V829.4M336.5 746.0V820.2M337.5 733.2V821.0M338.5 757.2V830.2M339.5 757.9V845.3M340.5 753.0V817.7M341.5 757.6V825.1M342.5 737.3V820.5M343.5 732.1V846.1M344.5 759.8V827.0M345.5 747.6V831.7M346.5 755.5V819.0M347.5 742.9V827.7M348.5 725.1V818.4M349.5 754.2V819.6M350.5 743.7V846.5M351.5 752.3V830.2M352.5 730.9V815.6M353.5 758.7V835.9M354.5 760.1V843.3M355.5 735.6V813.7M356.5 759.8V813.8M357.5 738.8V827.3M358.5 763.6V820.8M359.5 765.9V822.3M360.5 761.5V833.9M361.5 745.4V829.7M362.5 767.1V840.2M363.5 771.2V843.9M364.5 769.1V838.5M365.5 741.3V827.4M366.5 769.7V853.1M367.5 760.5V828.4M368.5 769.0V831.8M369.5 745.0V829.9M370.5 757.0V829.5M371.5 775.7V825.7M372.5 776.2V828.0M373.5 778.0V847.5M374.5 751.9V824.1M375.5 777.5V843.6M376.5 771.8V865.6M377.5 772.2V837.0M378.5 761.6V837.7M379.5 770.1V825.3M380.5 770.6V833.3M381.5 748.6V844.4M382.5 770.0V827.4M383.5 756.7V836.9M384.5 762.5V845.6M385.5 763.2V833.3M386.5 764.9V827.4M387.5 741.3V828.0M388.5 747.7V850.7M389.5 763.4V824.7M390.5 771.9V835.6M391.5 763.6V846.5M392.5 747.9V848.7M393.5 765.5V833.3M394.5 771.8V844.7M395.5 742.2V844.3M396.5 767.9V855.1M397.5 764.1V833.7M398.5 753.8V852.0M399.5 768.3V842.6M400.5 739.6V825.1M401.5 764.7V837.3M402.5 757.5V823.0M403.5 762.9V856.0M404.5 768.6V823.6M405.5 759.2V820.5M406.5 768.7V847.2M407.5 770.3V852.7M408.5 760.9V832.6M409.5 771.5V838.8M410.5 775.5V843.2M411.5 778.5V829.1M412.5 773.4V827.6M413.5 777.2V854.5M414.5 763.6V827.9M415.5 747.6V833.3M416.5 772.5V844.1M417.5 769.4V831.1M418.5 754.4V849.8M419.5 752.5V861.2M420.5 742.4V828.1M421.5 773.4V827.0M422.5 747.5V823.9M423.5 751.7V835.3M424.5 756.0V843.6M425.5 759.8V828.1M426.5 769.9V828.3M427.5 766.5V834.5M428.5 768.5V823.3M429.5 772.0V834.1M430.5 766.2V820.9M431.5 764.7V819.4M432.5 749.0V833.6M433.5 777.4V845.6M434.5 761.8V835.7M435.5 772.8V825.6M436.5 778.9V824.3M437.5 775.7V826.6M438.5 774.7V827.4M439.5 758.5V818.3M440.5 775.0V827.0M441.5 775.6V824.2M442.5 772.6V841.2M443.5 777.9V822.4M444.5 768.4V843.6M445.5 778.7V829.7M446.5 779.5V838.2M447.5 758.2V835.1M448.5 774.3V840.0M449.5 772.8V864.1M450.5 784.9V847.4M451.5 786.4V840.3M452.5 783.3V839.8M453.5 786.1V843.5M454.5 784.7V848.6M455.5 770.4V833.2M456.5 772.1V845.5M457.5 788.2V840.9M458.5 761.4V857.5M459.5 770.9V848.7M460.5 784.2V863.6M461.5 786.4V839.4M462.5 767.5V832.6M463.5 776.1V832.4M464.5 788.1V860.4M465.5 778.5V827.6M466.5 778.9V862.8M467.5 780.6V850.6M468.5 788.6V859.8M469.5 789.6V851.0M470.5 786.2V845.3M471.5 786.5V853.9M472.5 776.4V841.0M473.5 779.5V841.7M474.5 793.4V837.7M475.5 789.1V844.6M476.5 788.9V833.2M477.5 787.4V844.9M478.5 781.7V839.3M479.5 784.0V835.5M480.5 766.6V830.2M481.5 775.6V839.5M482.5 781.6V841.5M483.5 789.3V859.4M484.5 790.2V840.3M485.5 787.6V841.3M486.5 791.1V832.9M487.5 767.4V837.3M488.5 767.0V835.4M489.5 783.0V841.5M490.5 772.8V836.0M491.5 789.2V831.5M492.5 792.8V840.1M493.5 786.6V837.0M494.5 776.2V847.8M495.5 787.9V854.2M496.5 789.7V848.6M497.5 763.1V835.8M498.5 770.9V851.1M499.5 781.0V834.9M500.5 771.9V837.9M501.5 772.4V833.0M502.5 790.1V830.0M503.5 769.8V831.0M504.5 782.0V834.1M505.5 785.6V830.8M506.5 790.0V840.9M507.5 790.5V840.8M508.5 790.4V835.2M509.5 790.9V839.1M510.5 771.7V862.1M511.5 789.9V838.4M512.5 778.2V838.0M513.5 774.2V841.9M514.5 780.9V835.8M515.5 777.4V836.6M516.5 783.1V837.8M517.5 760.5V838.1M518.5 768.4V854.0M519.5 778.7V838.5M520.5 783.1V852.9M521.5 778.8V834.4M522.5 774.7V844.4M523.5 774.5V840.9M524.5 774.4V836.3M525.5 763.4V854.4M526.5 786.2V840.1M527.5 777.8V848.8M528.5 782.1V843.8M529.5 759.0V844.0M530.5 788.2V845.0M531.5 777.3V863.6M532.5 763.6V846.9M533.5 792.3V848.8M534.5 759.1V870.4M535.5 779.2V861.9M536.5 765.3V856.1M537.5 793.3V847.8M538.5 792.3V872.2M539.5 793.8V874.2M540.5 767.6V852.4M541.5 791.8V850.4M542.5 795.1V847.6M543.5 782.8V850.0M544.5 788.3V852.0M545.5 782.6V869.9M546.5 790.6V875.8M547.5 772.3V857.3M548.5 794.5V855.7M549.5 767.2V853.5M550.5 792.8V859.4M551.5 760.8V870.5M552.5 779.6V859.5M553.5 795.0V855.8M554.5 767.3V870.4M555.5 790.0V849.2M556.5 792.8V845.5M557.5 790.0V850.0M558.5 784.1V856.9M559.5 771.5V855.5M560.5 780.1V858.1M561.5 795.6V873.8M562.5 766.6V860.5M563.5 786.3V859.4M564.5 792.0V860.4M565.5 790.8V845.2M566.5 795.7V851.3M567.5 779.1V846.0M568.5 796.1V848.2M569.5 795.5V843.0M570.5 795.5V851.0M571.5 770.0V844.3M572.5 783.6V863.8M573.5 768.0V856.6M574.5 789.1V852.4M575.5 774.7V875.0M576.5 794.7V874.0M577.5 767.6V868.1M578.5 793.9V869.5M579.5 794.2V851.1M580.5 789.4V852.3M581.5 791.9V855.8M582.5 790.2V874.2M583.5 788.0V878.8M584.5 786.9V863.8M585.5 777.6V860.7M586.5 780.8V860.4M587.5 793.9V847.2M588.5 783.3V871.1M589.5 786.9V860.0M590.5 777.0V860.1M591.5 790.1V867.8M592.5 771.7V870.7M593.5 788.0V852.8M594.5 788.7V875.9M595.5 764.5V872.3M596.5 788.9V880.8M597.5 788.2V852.6M598.5 787.0V860.6M599.5 789.4V859.2M600.5 768.0V880.1M601.5 793.2V848.6M602.5 789.9V874.1M603.5 787.6V852.4M604.5 759.9V859.8M605.5 773.1V856.4M606.5 779.0V853.4M607.5 786.1V858.3M608.5 782.8V855.1M609.5 779.6V847.2M610.5 787.6V874.3M611.5 782.9V849.4M612.5 794.9V875.0M613.5 790.3V852.2M614.5 787.9V859.9M615.5 785.4V851.7M616.5 769.5V857.1M617.5 796.8V857.8M618.5 805.4V874.4M619.5 782.8V869.0M620.5 804.1V856.5M621.5 793.2V855.4M622.5 804.9V882.5M623.5 805.3V857.0M624.5 805.7V856.3M625.5 799.7V857.9M626.5 796.1V857.7M627.5 803.8V865.2M628.5 797.4V862.8M629.5 769.2V856.6M630.5 789.7V870.8M631.5 785.1V868.2M632.5 801.7V847.0M633.5 807.1V874.8M634.5 787.4V859.0M635.5 809.0V886.1M636.5 809.1V890.1M637.5 810.3V858.2M638.5 809.9V856.5M639.5 779.0V856.3M640.5 805.6V855.2M641.5 792.2V867.7M642.5 808.1V898.2M643.5 803.8V863.8M644.5 795.6V887.9M645.5 779.7V882.4M646.5 772.4V870.8M647.5 783.3V866.8M648.5 789.8V868.8M649.5 797.8V865.6M650.5 795.9V892.1M651.5 800.0V882.6M652.5 774.7V862.5M653.5 799.7V867.9M654.5 765.9V879.1M655.5 801.9V860.6M656.5 793.2V862.1M657.5 785.9V862.5M658.5 801.0V889.5M659.5 796.2V862.8M660.5 795.6V894.0M661.5 797.6V891.7M662.5 774.7V868.1M663.5 791.1V864.3M664.5 784.3V873.0M665.5 793.1V864.1M666.5 786.4V863.8M667.5 806.4V869.2M668.5 796.4V867.0M669.5 796.7V869.8M670.5 787.8V864.8M671.5 804.9V883.9M672.5 805.1V862.8M673.5 801.8V860.7M674.5 784.8V892.9M675.5 788.1V869.4M676.5 802.2V860.1M677.5 794.1V858.2M678.5 806.0V859.8M679.5 800.0V884.7M680.5 800.5V856.4M681.5 792.5V857.4M682.5 767.5V856.9M683.5 793.7V855.3M684.5 785.0V870.4M685.5 796.5V857.8M686.5 804.6V862.0M687.5 801.8V864.9M688.5 775.3V857.2M689.5 797.7V866.7M690.5 787.0V872.1M691.5 795.0V858.6M692.5 790.2V858.9M693.5 799.6V866.2M694.5 795.6V869.2M695.5 803.2V860.3M696.5 802.2V871.0M697.5 803.4V862.6M698.5 802.9V858.9M699.5 806.6V886.6M700.5 806.2V867.1M701.5 809.0V867.2M702.5 805.3V878.9M703.5 809.3V873.1M704.5 810.0V874.3M705.5 793.9V885.8M706.5 798.0V880.2M707.5 802.3V876.4M708.5 810.0V897.4M709.5 811.8V871.7M710.5 795.2V904.8M711.5 819.3V869.6M712.5 817.6V870.9M713.5 817.0V870.0M714.5 812.1V886.0M715.5 814.1V871.4M716.5 794.0V870.4M717.5 803.0V870.3M718.5 818.7V881.6M719.5 817.1V884.0M720.5 806.0V871.0M721.5 804.3V878.8M722.5 806.9V871.3M723.5 819.5V871.0M724.5 814.5V869.6M725.5 798.6V867.4M726.5 821.3V887.9M727.5 800.9V890.7M728.5 790.3V883.4M729.5 794.7V892.3M730.5 822.0V865.7M731.5 824.9V870.3M732.5 791.0V871.5M733.5 817.9V868.5M734.5 813.3V896.6M735.5 823.5V889.4M736.5 808.0V867.7M737.5 814.5V867.4M738.5 812.5V882.0M739.5 817.3V888.6M740.5 825.2V892.8M741.5 806.2V903.6M742.5 795.1V887.4M743.5 821.0V872.0M744.5 824.0V882.6M745.5 822.2V879.0M746.5 823.8V881.7M747.5 811.7V867.1M748.5 816.7V894.5M749.5 819.8V870.7M750.5 821.7V876.2M751.5 793.4V879.8M752.5 800.1V871.9M753.5 809.8V875.2M754.5 814.0V873.1M755.5 812.2V872.6M756.5 820.6V886.2M757.5 812.6V873.7M758.5 814.7V873.6M759.5 810.6V882.3M760.5 787.0V893.1M761.5 819.9V897.5M762.5 815.4V895.7M763.5 808.8V881.1M764.5 819.8V871.7M765.5 815.7V894.4M766.5 795.4V872.2M767.5 784.0V873.6M768.5 807.5V876.1M769.5 808.3V874.5M770.5 820.6V882.1M771.5 817.7V882.0M772.5 798.4V872.8M773.5 801.5V895.4M774.5 819.9V874.1M775.5 826.9V879.5M776.5 822.7V876.4M777.5 815.2V869.3M778.5 820.6V871.0M779.5 807.9V879.3M780.5 821.5V878.9M781.5 805.1V890.4M782.5 814.9V894.0M783.5 809.7V896.6M784.5 817.7V895.1M785.5 824.8V890.6M786.5 825.9V883.3M787.5 823.1V891.0M788.5 813.8V902.2M789.5 821.2V905.8M790.5 814.4V905.6M791.5 815.1V895.1M792.5 817.3V884.8M793.5 804.6V887.9M794.5 829.4V887.3M795.5 816.9V880.4M796.5 828.5V885.0M797.5 819.6V879.6M798.5 828.8V906.9M799.5 811.9V899.2M800.5 825.3V897.1M801.5 800.2V907.7M802.5 802.4V886.8M803.5 818.6V884.1M804.5 823.8V886.6M805.5 827.6V896.5M806.5 801.5V887.2M807.5 829.3V885.2M808.5 811.7V907.8M809.5 824.7V889.4M810.5 799.4V879.7M811.5 830.1V880.6M812.5 809.2V885.1M813.5 825.7V890.9M814.5 824.2V894.0M815.5 825.7V899.3M816.5 827.0V912.5M817.5 825.4V907.7M818.5 805.7V900.7M819.5 800.9V889.4M820.5 813.4V886.8M821.5 823.4V891.7M822.5 821.2V885.3M823.5 810.7V888.4M824.5 831.6V901.2M825.5 827.2V890.2M826.5 825.7V888.3M827.5 802.3V894.6M828.5 832.4V892.6M829.5 804.2V901.2M830.5 830.2V905.3M831.5 801.3V885.4M832.5 822.4V885.8M833.5 808.3V906.5M834.5 830.4V886.2M835.5 825.6V914.1M836.5 803.6V895.5M837.5 811.5V914.3M838.5 825.9V892.4M839.5 816.6V894.6M840.5 829.0V890.6M841.5 826.5V894.0M842.5 827.6V887.2M843.5 821.6V906.1M844.5 804.4V905.6M845.5 824.2V890.7M846.5 832.5V912.5M847.5 802.4V901.1M848.5 811.9V890.2M849.5 810.3V892.1M850.5 829.4V894.3M851.5 817.2V884.4M852.5 825.7V884.4M853.5 821.5V885.7M854.5 803.6V899.1M855.5 828.3V887.5M856.5 837.0V880.3M857.5 806.7V882.2M858.5 815.6V903.9M859.5 818.6V888.0M860.5 826.0V886.9M861.5 833.1V894.5M862.5 830.1V888.3M863.5 826.1V887.3M864.5 825.0V893.7M865.5 827.8V904.4M866.5 829.4V896.7M867.5 827.1V883.9M868.5 826.9V889.6M869.5 823.5V905.6M870.5 814.8V908.7M871.5 815.9V890.5M872.5 834.6V910.2M873.5 831.8V914.1M874.5 820.1V901.3M875.5 829.4V899.7M876.5 824.6V895.0M877.5 808.2V900.6M878.5 833.2V911.8M879.5 824.8V911.0M880.5 835.2V922.6M881.5 843.2V901.3M882.5 818.0V927.7M883.5 818.8V924.9M884.5 827.9V905.0M885.5 839.2V922.1M886.5 825.1V898.9M887.5 838.7V900.7M888.5 830.2V918.6M889.5 838.9V900.9M890.5 839.8V900.6M891.5 826.9V901.8M892.5 834.5V928.7M893.5 833.1V924.5M894.5 814.6V908.3M895.5 821.8V908.4M896.5 841.0V902.8M897.5 829.0V907.3M898.5 837.9V896.3M899.5 816.5V914.5M900.5 831.4V900.6M901.5 836.4V894.7M902.5 832.6V920.4M903.5 843.4V909.5M904.5 817.1V921.3M905.5 838.9V902.1M906.5 839.5V910.5M907.5 815.6V914.1M908.5 821.7V895.3M909.5 841.7V907.1M910.5 826.8V892.8M911.5 837.1V893.3M912.5 831.2V895.2M913.5 841.4V919.0M914.5 837.7V894.2M915.5 817.7V906.1M916.5 844.8V903.9M917.5 812.4V908.9M918.5 828.7V902.3M919.5 838.2V901.1M920.5 844.6V904.0M921.5 818.4V895.4M922.5 818.0V892.2M923.5 840.9V914.2M924.5 843.2V894.2M925.5 837.0V892.8M926.5 845.7V895.4M927.5 818.5V899.1M928.5 818.4V895.4M929.5 838.0V898.7M930.5 844.7V927.2M931.5 818.0V892.1M932.5 842.5V898.2M933.5 845.8V893.2M934.5 847.7V892.8M935.5 817.6V890.9M936.5 848.9V890.1M937.5 841.5V896.8M938.5 826.5V924.3M939.5 823.6V892.5M940.5 840.7V891.2M941.5 841.5V888.8M942.5 840.0V905.6M943.5 837.9V891.5M944.5 832.4V907.8M945.5 841.3V897.9M946.5 836.2V898.7M947.5 815.7V892.9M948.5 831.4V917.6M949.5 830.5V891.7M950.5 820.4V899.6M951.5 841.2V895.7M952.5 817.3V906.1" fill="none" stroke="#e3003b" stroke-width="1.5"/></g>
<g clip-path="url(#c2)"><path d="M106.5 758.4V769.0M107.5 757.8V768.9M108.5 758.3V768.4M109.5 756.3V767.1M110.5 758.9V767.4M111.5 758.4V767.9M112.5 757.4V767.5M113.5 758.1V767.1M114.5 757.9V768.1M115.5 756.8V766.3M116.5 758.3V766.9M117.5 759.2V767.9M118.5 759.1V768.6M119.5 759.4V768.3M120.5 759.8V768.3M121.5 759.6V770.3M122.5 758.8V767.0M123.5 759.2V768.1M124.5 757.6V769.7M125.5 756.7V766.8M126.5 757.6V766.4M127.5 758.6V767.5M128.5 757.5V767.3M129.5 758.3V768.4M130.5 759.3V769.1M131.5 759.5V769.8M132.5 759.5V767.8M133.5 759.3V768.4M134.5 759.5V768.9M135.5 759.3V769.6M136.5 759.6V771.0M137.5 757.2V768.5M138.5 759.8V768.9M139.5 760.5V768.9M140.5 758.6V769.5M141.5 758.9V771.1M142.5 759.0V767.4M143.5 758.6V767.5M144.5 756.8V767.7M145.5 758.1V767.4M146.5 758.6V768.3M147.5 760.7V769.7M148.5 761.8V770.2M149.5 761.3V771.4M150.5 760.9V769.7M151.5 760.0V769.1M152.5 760.4V771.3M153.5 758.8V768.4M154.5 758.8V769.5M155.5 761.1V770.0M156.5 760.1V770.8M157.5 759.7V768.1M158.5 760.9V770.4M159.5 760.5V770.2M160.5 759.0V768.8M161.5 758.6V769.2M162.5 759.9V768.6M163.5 758.2V768.4M164.5 758.3V767.3M165.5 758.3V767.3M166.5 758.3V766.5M167.5 757.9V767.8M168.5 759.8V769.0M169.5 759.6V768.2M170.5 757.1V766.7M171.5 757.8V767.2M172.5 757.1V767.0M173.5 757.1V766.5M174.5 757.8V766.9M175.5 758.4V768.2M176.5 759.9V770.1M177.5 760.9V769.5M178.5 759.7V768.6M179.5 759.0V768.8M180.5 757.5V768.1M181.5 756.9V766.9M182.5 756.8V766.2M183.5 758.6V768.7M184.5 759.4V768.3M185.5 759.2V769.1M186.5 760.0V771.4M187.5 760.2V771.1M188.5 762.8V771.8M189.5 764.3V775.0M190.5 767.3V777.6M191.5 770.0V778.9M192.5 770.1V781.1M193.5 770.9V783.0M194.5 771.4V780.8M195.5 770.8V781.2M196.5 769.5V780.1M197.5 769.4V778.9M198.5 769.8V779.6M199.5 771.5V781.8M200.5 770.5V782.6M201.5 771.2V781.0M202.5 771.5V780.5M203.5 771.5V782.3M204.5 770.7V779.5M205.5 770.0V780.6M206.5 769.1V779.5M207.5 771.0V779.6M208.5 772.2V780.8M209.5 770.3V780.6M210.5 772.4V784.0M211.5 773.2V782.6M212.5 771.4V781.0M213.5 770.9V780.2M214.5 771.5V780.3M215.5 770.8V783.9M216.5 769.9V779.8M217.5 770.6V781.4M218.5 769.7V779.8M219.5 769.6V779.4M220.5 771.3V781.3M221.5 774.0V782.9M222.5 772.5V782.1M223.5 772.6V782.1M224.5 772.4V781.8M225.5 773.1V783.0M226.5 771.8V781.1M227.5 771.0V781.5M228.5 771.6V782.4M229.5 771.0V780.7M230.5 770.7V779.8M231.5 771.3V781.5M232.5 770.9V782.6M233.5 771.9V781.3M234.5 772.3V782.5M235.5 773.5V784.0M236.5 772.0V780.9M237.5 771.0V780.1M238.5 770.6V780.3M239.5 772.4V782.6M240.5 771.5V782.4M241.5 773.1V781.6M242.5 772.7V782.6M243.5 773.0V782.1M244.5 772.0V781.6M245.5 771.8V781.4M246.5 769.8V781.7M247.5 772.4V781.1M248.5 772.5V782.5M249.5 772.9V783.3M250.5 773.5V782.8M251.5 774.3V784.1M252.5 774.8V783.4M253.5 774.1V783.7M254.5 772.9V782.6M255.5 771.8V782.9M256.5 773.5V782.4M257.5 772.7V783.0M258.5 774.3V782.9M259.5 773.9V783.2M260.5 774.1V783.6M261.5 772.5V782.1M262.5 773.6V782.6M263.5 771.6V780.4M264.5 770.3V780.1M265.5 771.9V781.5M266.5 769.5V778.1M267.5 767.5V777.9M268.5 770.8V779.6M269.5 771.5V782.1M270.5 771.8V781.4M271.5 774.4V783.9M272.5 776.8V787.1M273.5 777.3V786.7M274.5 778.4V789.2M275.5 782.9V791.9M276.5 783.6V793.5M277.5 784.4V793.9M278.5 783.3V792.6M279.5 781.8V792.2M280.5 782.0V790.9M281.5 784.2V794.6M282.5 781.4V790.8M283.5 781.3V792.1M284.5 782.0V791.1M285.5 782.1V792.1M286.5 780.4V790.5M287.5 783.0V793.1M288.5 782.1V792.8M289.5 782.2V792.9M290.5 782.1V791.5M291.5 782.7V792.1M292.5 781.9V792.1M293.5 778.9V790.0M294.5 781.3V792.6M295.5 781.5V791.8M296.5 779.5V791.2M297.5 782.9V791.4M298.5 781.0V793.8M299.5 778.5V791.2M300.5 780.0V793.7M301.5 779.4V790.2M302.5 780.5V788.9M303.5 780.8V789.2M304.5 779.6V792.6M305.5 779.5V789.4M306.5 779.3V789.6M307.5 780.6V789.8M308.5 779.4V790.1M309.5 780.2V789.5M310.5 780.8V790.3M311.5 782.7V791.5M312.5 780.7V790.0M313.5 781.3V792.2M314.5 781.7V790.7M315.5 780.6V790.4M316.5 780.7V792.5M317.5 782.8V792.3M318.5 780.8V789.5M319.5 780.6V789.8M320.5 781.8V790.1M321.5 782.4V791.7M322.5 780.7V790.3M323.5 782.9V791.5M324.5 780.5V792.7M325.5 783.3V791.5M326.5 781.2V791.2M327.5 781.9V794.3M328.5 781.0V792.5M329.5 783.0V791.4M330.5 782.4V790.5M331.5 781.9V791.5M332.5 778.9V789.6M333.5 780.3V790.9M334.5 778.7V790.0M335.5 779.5V789.5M336.5 780.4V789.7M337.5 780.3V790.5M338.5 779.5V787.8M339.5 780.0V789.2M340.5 779.9V790.0M341.5 780.7V790.0M342.5 781.0V790.0M343.5 781.8V791.3M344.5 783.0V791.6M345.5 784.1V792.6M346.5 781.4V793.9M347.5 782.5V791.8M348.5 782.6V792.9M349.5 780.6V790.5M350.5 781.2V790.3M351.5 781.1V790.3M352.5 780.5V790.1M353.5 781.2V791.6M354.5 782.6V791.5M355.5 782.9V791.9M356.5 781.8V793.8M357.5 783.1V793.5M358.5 785.1V794.0M359.5 785.5V795.4M360.5 788.4V797.7M361.5 789.0V798.6M362.5 792.7V801.6M363.5 793.0V803.0M364.5 793.2V802.6M365.5 790.3V800.6M366.5 791.1V801.1M367.5 790.1V800.3M368.5 791.6V800.8M369.5 792.0V802.2M370.5 792.9V801.7M371.5 792.8V801.4M372.5 794.4V802.9M373.5 795.7V803.9M374.5 794.4V805.2M375.5 795.6V804.9M376.5 796.2V804.9M377.5 794.2V803.6M378.5 791.9V802.4M379.5 791.5V801.3M380.5 792.6V800.9M381.5 791.4V800.3M382.5 791.5V801.7M383.5 791.5V802.1M384.5 792.1V802.3M385.5 793.6V802.3M386.5 795.4V804.9M387.5 794.6V804.0M388.5 795.5V805.7M389.5 795.5V804.7M390.5 795.2V806.2M391.5 794.4V803.0M392.5 794.3V802.6M393.5 794.9V803.4M394.5 790.6V800.5M395.5 789.1V798.3M396.5 789.8V798.0M397.5 789.4V798.3M398.5 790.0V798.8M399.5 791.3V800.1M400.5 791.1V801.9M401.5 792.4V801.8M402.5 793.0V803.9M403.5 794.3V802.9M404.5 794.1V803.1M405.5 794.8V803.8M406.5 792.6V803.4M407.5 793.7V802.3M408.5 791.1V801.1M409.5 792.6V801.9M410.5 793.2V802.0M411.5 793.9V804.0M412.5 794.9V804.6M413.5 795.7V804.9M414.5 794.3V803.2M415.5 794.1V805.2M416.5 794.2V804.1M417.5 792.6V801.9M418.5 792.3V803.5M419.5 794.5V804.8M420.5 794.3V804.9M421.5 795.0V803.9M422.5 795.8V806.1M423.5 794.6V803.0M424.5 794.2V802.5M425.5 792.9V802.8M426.5 790.9V800.1M427.5 789.7V799.1M428.5 791.1V800.8M429.5 790.8V799.7M430.5 790.6V798.9M431.5 791.6V801.8M432.5 792.5V802.1M433.5 793.0V802.5M434.5 792.8V802.9M435.5 794.6V803.9M436.5 792.1V802.9M437.5 793.8V804.8M438.5 795.6V805.4M439.5 792.9V803.4M440.5 791.9V801.9M441.5 792.0V801.2M442.5 791.9V800.6M443.5 791.9V801.1M444.5 794.0V802.6M445.5 794.6V804.1M446.5 797.3V808.6M447.5 798.4V808.5M448.5 796.9V808.4M449.5 802.2V810.7M450.5 804.1V812.5M451.5 804.7V813.3M452.5 805.3V814.2M453.5 805.5V814.6M454.5 804.1V813.0M455.5 802.9V813.2M456.5 803.7V813.9M457.5 804.0V812.9M458.5 801.6V813.2M459.5 802.9V813.1M460.5 805.0V813.6M461.5 805.1V814.6M462.5 804.0V812.6M463.5 804.6V815.1M464.5 806.4V816.6M465.5 806.1V814.9M466.5 804.7V814.9M467.5 805.9V817.1M468.5 805.2V814.3M469.5 807.3V816.9M470.5 806.7V816.9M471.5 806.1V815.2M472.5 804.1V813.8M473.5 805.6V815.0M474.5 803.2V812.9M475.5 804.0V813.1M476.5 804.0V814.4M477.5 805.0V814.5M478.5 804.9V814.8M479.5 804.6V814.8M480.5 805.8V814.7M481.5 805.9V815.3M482.5 807.2V817.7M483.5 807.4V816.4M484.5 806.2V815.6M485.5 806.5V816.0M486.5 805.9V815.6M487.5 805.7V813.9M488.5 804.3V812.6M489.5 804.9V814.6M490.5 804.6V814.1M491.5 804.2V813.3M492.5 804.1V814.3M493.5 805.9V815.4M494.5 806.1V814.4M495.5 803.8V813.3M496.5 804.1V814.4M497.5 804.5V812.9M498.5 803.1V811.9M499.5 800.9V810.7M500.5 802.6V811.7M501.5 802.2V812.8M502.5 803.2V814.0M503.5 803.8V813.2M504.5 805.0V815.5M505.5 806.2V815.3M506.5 805.1V813.9M507.5 805.0V814.3M508.5 806.5V814.7M509.5 805.6V816.2M510.5 806.3V815.6M511.5 807.2V816.0M512.5 807.2V816.0M513.5 805.1V814.3M514.5 805.1V814.1M515.5 806.0V815.1M516.5 804.4V815.6M517.5 802.1V812.9M518.5 804.7V813.3M519.5 805.3V813.7M520.5 804.0V812.5M521.5 805.5V813.8M522.5 806.4V815.4M523.5 805.1V815.3M524.5 806.8V816.3M525.5 807.3V817.6M526.5 806.3V817.1M527.5 807.4V816.6M528.5 807.8V819.2M529.5 809.2V817.5M530.5 809.3V819.2M531.5 810.4V819.7M532.5 811.6V821.2M533.5 812.3V821.1M534.5 812.9V824.2M535.5 814.1V824.2M536.5 814.0V824.1M537.5 813.5V823.7M538.5 813.6V823.3M539.5 814.0V822.3M540.5 812.0V822.6M541.5 811.4V822.6M542.5 813.2V823.0M543.5 812.5V822.4M544.5 815.1V824.6M545.5 815.3V823.8M546.5 814.9V823.7M547.5 814.7V823.9M548.5 815.3V824.7M549.5 814.1V823.6M550.5 813.0V822.0M551.5 810.6V820.6M552.5 812.0V821.3M553.5 811.8V821.4M554.5 812.4V821.2M555.5 812.1V820.5M556.5 812.6V823.1M557.5 812.7V821.3M558.5 811.3V822.0M559.5 810.1V820.2M560.5 810.1V820.6M561.5 809.9V819.7M562.5 812.2V821.4M563.5 812.9V822.1M564.5 813.8V822.2M565.5 814.6V824.6M566.5 814.8V823.9M567.5 813.5V822.9M568.5 813.5V823.2M569.5 814.6V824.6M570.5 814.5V824.1M571.5 816.1V826.1M572.5 813.6V824.4M573.5 813.8V823.7M574.5 814.0V824.2M575.5 812.8V822.3M576.5 812.9V822.0M577.5 812.9V822.7M578.5 813.7V822.5M579.5 812.0V821.9M580.5 814.3V822.8M581.5 814.9V824.1M582.5 813.6V824.9M583.5 812.0V822.6M584.5 813.0V823.0M585.5 812.9V824.5M586.5 813.6V822.8M587.5 814.7V825.2M588.5 814.1V824.5M589.5 815.1V824.8M590.5 813.0V824.3M591.5 813.0V822.9M592.5 812.3V822.4M593.5 812.3V822.0M594.5 812.6V822.1M595.5 813.2V822.5M596.5 812.2V822.7M597.5 812.7V822.6M598.5 813.6V824.6M599.5 814.8V824.6M600.5 813.7V823.3M601.5 812.8V824.5M602.5 814.9V824.6M603.5 814.6V823.9M604.5 814.8V824.4M605.5 815.7V824.3M606.5 813.2V824.5M607.5 814.2V822.9M608.5 813.2V823.3M609.5 813.0V824.4M610.5 812.6V821.3M611.5 812.9V824.3M612.5 815.1V823.3M613.5 817.5V826.0M614.5 817.9V827.2M615.5 819.9V829.4M616.5 822.5V831.4M617.5 824.3V834.0M618.5 823.9V833.7M619.5 825.8V834.1M620.5 825.2V835.2M621.5 825.9V834.9M622.5 825.4V834.4M623.5 823.8V834.6M624.5 824.9V834.9M625.5 824.2V834.1M626.5 824.4V835.2M627.5 823.5V834.2M628.5 824.0V832.9M629.5 823.0V833.4M630.5 823.8V832.2M631.5 824.6V834.3M632.5 823.8V834.4M633.5 826.0V835.0M634.5 825.8V835.1M635.5 827.5V836.7M636.5 827.2V837.6M637.5 826.5V835.6M638.5 825.6V835.4M639.5 824.3V833.1M640.5 823.9V833.4M641.5 822.7V833.5M642.5 825.4V834.2M643.5 824.2V837.2M644.5 826.3V835.5M645.5 825.8V835.8M646.5 828.1V836.4M647.5 827.3V836.6M648.5 826.3V836.5M649.5 825.9V834.6M650.5 824.3V833.9M651.5 825.0V833.9M652.5 823.9V834.7M653.5 825.8V836.4M654.5 825.3V835.7M655.5 827.2V837.7M656.5 825.4V836.2M657.5 826.6V835.3M658.5 826.0V836.4M659.5 827.1V836.9M660.5 825.0V834.8M661.5 824.5V835.7M662.5 824.0V835.9M663.5 824.1V833.7M664.5 824.1V834.7M665.5 823.9V834.2M666.5 823.7V832.8M667.5 822.5V833.1M668.5 823.8V832.6M669.5 823.1V832.1M670.5 822.3V832.5M671.5 822.5V831.4M672.5 823.3V831.9M673.5 822.9V831.4M674.5 824.5V834.5M675.5 824.5V833.6M676.5 824.7V834.6M677.5 822.5V833.4M678.5 825.1V833.8M679.5 824.4V833.1M680.5 823.4V833.6M681.5 823.7V835.0M682.5 825.4V835.0M683.5 825.1V833.5M684.5 823.7V833.6M685.5 822.1V832.5M686.5 819.4V831.3M687.5 821.7V830.2M688.5 821.1V830.5M689.5 822.7V830.9M690.5 823.8V833.6M691.5 825.0V833.5M692.5 825.1V833.5M693.5 824.2V832.5M694.5 823.0V834.1M695.5 823.0V832.1M696.5 822.7V832.2M697.5 825.2V834.4M698.5 827.5V838.6M699.5 828.7V840.0M700.5 831.2V840.9M701.5 834.1V842.6M702.5 835.5V844.9M703.5 838.9V847.5M704.5 839.3V850.3M705.5 840.7V851.1M706.5 840.4V850.0M707.5 841.6V849.9M708.5 840.2V848.7M709.5 838.7V849.1M710.5 839.4V849.5M711.5 839.9V849.1M712.5 839.6V848.3M713.5 839.6V849.6M714.5 839.3V847.7M715.5 840.1V850.0M716.5 839.7V849.6M717.5 839.0V848.4M718.5 839.9V849.5M719.5 838.2V849.1M720.5 839.2V848.3M721.5 836.8V848.5M722.5 838.7V847.4M723.5 839.4V848.8M724.5 839.6V849.5M725.5 839.9V849.7M726.5 841.5V851.9M727.5 840.6V851.3M728.5 839.7V849.7M729.5 841.1V850.8M730.5 842.2V853.0M731.5 840.2V851.3M732.5 843.0V852.2M733.5 842.5V851.8M734.5 841.3V852.1M735.5 841.0V851.7M736.5 840.2V849.9M737.5 841.2V850.1M738.5 840.7V851.0M739.5 840.2V851.4M740.5 839.8V848.8M741.5 840.7V850.2M742.5 839.3V848.9M743.5 840.0V849.3M744.5 838.4V849.5M745.5 840.7V849.9M746.5 840.9V849.3M747.5 838.3V849.7M748.5 839.0V848.0M749.5 839.4V849.5M750.5 841.0V851.1M751.5 842.0V850.3M752.5 842.8V852.0M753.5 843.9V853.9M754.5 840.7V851.9M755.5 841.7V849.9M756.5 839.6V849.3M757.5 839.7V848.7M758.5 839.1V848.4M759.5 840.3V848.7M760.5 840.0V850.3M761.5 840.6V850.3M762.5 840.4V849.9M763.5 841.8V851.4M764.5 841.9V851.5M765.5 840.2V849.4M766.5 841.1V850.5M767.5 840.9V850.3M768.5 839.7V850.1M769.5 839.4V850.0M770.5 840.4V849.9M771.5 839.9V848.9M772.5 840.3V849.7M773.5 841.3V852.7M774.5 841.4V850.1M775.5 840.8V850.4M776.5 842.0V850.6M777.5 841.1V852.2M778.5 842.3V851.5M779.5 842.5V851.4M780.5 842.2V852.6M781.5 841.4V852.5M782.5 842.8V852.4M783.5 843.2V852.6M784.5 842.7V852.9M785.5 844.5V853.9M786.5 846.1V856.4M787.5 847.4V856.2M788.5 849.9V860.9M789.5 849.1V860.8M790.5 850.8V862.2M791.5 850.0V861.2M792.5 851.9V861.8M793.5 851.7V862.3M794.5 851.2V861.7M795.5 849.9V861.6M796.5 849.9V860.1M797.5 850.2V860.2M798.5 847.7V857.4M799.5 849.4V858.1M800.5 850.0V859.2M801.5 849.6V858.0M802.5 849.1V859.0M803.5 849.4V858.7M804.5 848.2V857.6M805.5 848.1V857.8M806.5 847.3V859.1M807.5 849.3V858.5M808.5 848.5V858.1M809.5 849.5V858.6M810.5 849.5V858.4M811.5 848.5V857.9M812.5 849.7V858.6M813.5 850.6V860.1M814.5 850.8V860.1M815.5 850.7V859.4M816.5 850.4V859.9M817.5 848.8V859.2M818.5 850.0V860.0M819.5 850.2V860.4M820.5 848.7V860.3M821.5 849.7V860.1M822.5 851.2V860.3M823.5 849.6V860.3M824.5 851.2V860.2M825.5 851.4V862.2M826.5 851.4V860.5M827.5 851.1V861.5M828.5 851.8V862.8M829.5 851.4V861.0M830.5 850.9V860.4M831.5 852.5V861.9M832.5 853.5V861.6M833.5 851.2V860.8M834.5 847.1V857.9M835.5 848.2V860.1M836.5 847.4V858.6M837.5 848.0V857.1M838.5 849.6V858.1M839.5 850.6V861.1M840.5 851.0V859.8M841.5 849.7V859.4M842.5 848.5V858.9M843.5 850.9V859.4M844.5 850.9V859.7M845.5 851.1V860.5M846.5 850.4V858.9M847.5 851.5V861.2M848.5 849.1V859.1M849.5 849.2V859.8M850.5 850.7V860.3M851.5 851.4V859.9M852.5 850.7V860.1M853.5 849.7V859.4M854.5 849.9V858.8M855.5 849.1V858.5M856.5 848.9V858.4M857.5 848.0V857.8M858.5 849.0V858.1M859.5 848.3V858.6M860.5 848.0V858.5M861.5 848.2V859.3M862.5 851.3V860.7M863.5 852.3V862.3M864.5 851.7V859.9M865.5 849.8V861.1M866.5 852.1V862.3M867.5 851.1V861.0M868.5 849.7V858.8M869.5 850.1V860.2M870.5 854.5V864.6M871.5 855.7V864.5M872.5 857.2V866.7M873.5 859.1V869.8M874.5 862.2V872.3M875.5 863.8V873.5M876.5 863.3V872.1M877.5 865.7V874.7M878.5 863.9V874.2M879.5 864.7V875.8M880.5 864.7V873.8M881.5 862.4V872.6M882.5 862.6V871.6M883.5 861.5V872.9M884.5 861.4V871.1M885.5 862.9V871.4M886.5 863.8V872.2M887.5 864.8V874.4M888.5 864.7V873.6M889.5 862.7V872.0M890.5 863.6V873.3M891.5 862.9V872.9M892.5 861.7V872.1M893.5 861.6V870.3M894.5 862.2V872.4M895.5 861.6V870.1M896.5 861.2V869.8M897.5 860.9V871.9M898.5 860.7V870.2M899.5 858.3V870.5M900.5 860.5V870.1M901.5 860.0V871.2M902.5 861.3V870.3M903.5 863.0V871.7M904.5 861.5V871.3M905.5 862.0V873.2M906.5 862.6V872.8M907.5 862.2V870.8M908.5 862.5V871.8M909.5 863.0V875.3M910.5 859.9V870.9M911.5 861.9V870.6M912.5 861.7V870.9M913.5 861.2V870.7M914.5 861.1V870.9M915.5 860.7V870.5M916.5 859.9V870.2M917.5 860.8V870.8M918.5 861.7V871.9M919.5 861.8V871.7M920.5 861.8V870.3M921.5 861.5V871.2M922.5 858.7V868.9M923.5 860.4V870.7M924.5 860.9V870.0M925.5 862.0V871.2M926.5 861.2V871.7M927.5 862.9V871.9M928.5 862.3V871.0M929.5 861.8V871.2M930.5 861.8V870.3M931.5 860.5V870.7M932.5 861.5V870.7M933.5 862.8V871.3M934.5 862.5V872.2M935.5 860.7V870.6M936.5 861.2V870.2M937.5 863.0V872.0M938.5 863.8V872.4M939.5 862.8V874.4M940.5 863.3V872.2M941.5 864.3V872.9M942.5 861.8V872.0M943.5 862.2V872.3M944.5 861.0V870.8M945.5 861.5V871.2M946.5 861.2V871.7M947.5 861.3V873.6M948.5 862.5V871.1M949.5 863.3V872.5M950.5 863.0V872.5M951.5 863.2V872.3M952.5 862.4V872.9" fill="none" stroke="#0000f2" stroke-width="1.25"/></g>
<text x="129.00" y="86" font-size="24" fill="#222" font-weight="normal" stroke="#fff" stroke-width="0.25" textLength="405.05" lengthAdjust="spacingAndGlyphs">Bestec P484: PGM ADRESS SLS PSI</text>
<text x="577.50" y="112.5" font-size="22" fill="#222" font-weight="normal" stroke="#fff" stroke-width="0.25" textLength="359.53" lengthAdjust="spacingAndGlyphs">Step width (average) = 0.050 µrad</text>
<text x="577.50" y="141.7" font-size="23" fill="#222" font-weight="normal" stroke="#222" stroke-width="0.35" textLength="178.57" lengthAdjust="spacingAndGlyphs">1σ = 0.001 µrad</text>
<text x="568.00" y="401.9" font-size="22" fill="#222" font-weight="normal" stroke="#fff" stroke-width="0.25" textLength="358.02" lengthAdjust="spacingAndGlyphs">Step width (average) = 0.050 µrad</text>
<text x="568.00" y="430.8" font-size="23" fill="#222" font-weight="normal" stroke="#222" stroke-width="0.35" textLength="178.56" lengthAdjust="spacingAndGlyphs">1σ = 0.003 µrad</text>
<text x="569.50" y="712.3" font-size="22" fill="#222" font-weight="normal" stroke="#fff" stroke-width="0.25" textLength="357.53" lengthAdjust="spacingAndGlyphs">Step width (average) = 0.050 µrad</text>
<text x="571.50" y="741.6" font-size="23" fill="#222" font-weight="normal" stroke="#222" stroke-width="0.35" textLength="176.05" lengthAdjust="spacingAndGlyphs">1σ = 0.007 µrad</text>
<text x="70.00" y="349.5" font-size="26.8" fill="#222" font-weight="normal" stroke="#fff" stroke-width="0.25" textLength="71.62" lengthAdjust="spacingAndGlyphs">00:00</text>
<text x="490.00" y="349.5" font-size="26.8" fill="#222" font-weight="normal" stroke="#fff" stroke-width="0.25" textLength="71.12" lengthAdjust="spacingAndGlyphs">00:15</text>
<text x="909.50" y="349.5" font-size="26.8" fill="#222" font-weight="normal" stroke="#fff" stroke-width="0.25" textLength="71.12" lengthAdjust="spacingAndGlyphs">00:30</text>
<text x="70.50" y="654.8" font-size="26.8" fill="#222" font-weight="normal" stroke="#fff" stroke-width="0.25" textLength="70.63" lengthAdjust="spacingAndGlyphs">00:00</text>
<text x="493.50" y="654.8" font-size="26.8" fill="#222" font-weight="normal" stroke="#fff" stroke-width="0.25" textLength="71.12" lengthAdjust="spacingAndGlyphs">00:15</text>
<text x="917.00" y="654.8" font-size="26.8" fill="#222" font-weight="normal" stroke="#fff" stroke-width="0.25" textLength="70.60" lengthAdjust="spacingAndGlyphs">00:30</text>
<text x="70.00" y="959.5" font-size="26.8" fill="#222" font-weight="normal" stroke="#fff" stroke-width="0.25" textLength="71.68" lengthAdjust="spacingAndGlyphs">00:00</text>
<text x="491.50" y="959.5" font-size="26.8" fill="#222" font-weight="normal" stroke="#fff" stroke-width="0.25" textLength="70.12" lengthAdjust="spacingAndGlyphs">00:15</text>
<text x="913.00" y="959.5" font-size="26.8" fill="#222" font-weight="normal" stroke="#fff" stroke-width="0.25" textLength="69.57" lengthAdjust="spacingAndGlyphs">00:30</text>
<text x="58.00" y="143.8" font-size="26.6" fill="#222" font-weight="normal" stroke="#fff" stroke-width="0.25" textLength="39.72" lengthAdjust="spacingAndGlyphs">0.0</text>
<text x="50.00" y="259.8" font-size="26.6" fill="#222" font-weight="normal" stroke="#fff" stroke-width="0.25" textLength="47.62" lengthAdjust="spacingAndGlyphs">-0.5</text>
<text x="58.50" y="469.3" font-size="26.6" fill="#222" font-weight="normal" stroke="#fff" stroke-width="0.25" textLength="39.21" lengthAdjust="spacingAndGlyphs">0.0</text>
<text x="49.50" y="576.3" font-size="26.6" fill="#222" font-weight="normal" stroke="#fff" stroke-width="0.25" textLength="47.72" lengthAdjust="spacingAndGlyphs">-0.5</text>
<text x="58.00" y="772.3" font-size="26.6" fill="#222" font-weight="normal" stroke="#fff" stroke-width="0.25" textLength="40.15" lengthAdjust="spacingAndGlyphs">0.0</text>
<text x="49.50" y="886.8" font-size="26.6" fill="#222" font-weight="normal" stroke="#fff" stroke-width="0.25" textLength="48.65" lengthAdjust="spacingAndGlyphs">-0.5</text>
<text x="120.50" y="304.6" font-size="23" fill="#222" font-weight="normal" stroke="#ebebeb" stroke-width="0.25" textLength="257.02" lengthAdjust="spacingAndGlyphs">cooling water 100 l /hour</text>
<text x="126.50" y="603.2" font-size="23.8" fill="#222" font-weight="normal" stroke="#ebebeb" stroke-width="0.25" textLength="255.52" lengthAdjust="spacingAndGlyphs">cooling water 20 l /hour</text>
<text x="124.00" y="912.3" font-size="22.8" fill="#222" font-weight="normal" stroke="#ebebeb" stroke-width="0.25" textLength="230.01" lengthAdjust="spacingAndGlyphs">without cooling water</text>
<text x="448.50" y="997.8" font-size="28.8" fill="#222" font-weight="normal" stroke="#fff" stroke-width="0.25" textLength="166.04" lengthAdjust="spacingAndGlyphs">Time /hh:mm</text>
<text transform="translate(30.8,330.80) rotate(-90)" x="0" y="0" font-size="28.6" fill="#222" font-weight="normal" stroke="#fff" stroke-width="0.25" textLength="241.65" lengthAdjust="spacingAndGlyphs">Grating pitch /µrad</text>
<text transform="translate(30.8,626.70) rotate(-90)" x="0" y="0" font-size="28.6" fill="#222" font-weight="normal" stroke="#fff" stroke-width="0.25" textLength="241.04" lengthAdjust="spacingAndGlyphs">Grating pitch /µrad</text>
<text transform="translate(30.8,927.20) rotate(-90)" x="0" y="0" font-size="28.6" fill="#222" font-weight="normal" stroke="#fff" stroke-width="0.25" textLength="241.56" lengthAdjust="spacingAndGlyphs">Grating pitch /µrad</text>
</svg></body></html>
